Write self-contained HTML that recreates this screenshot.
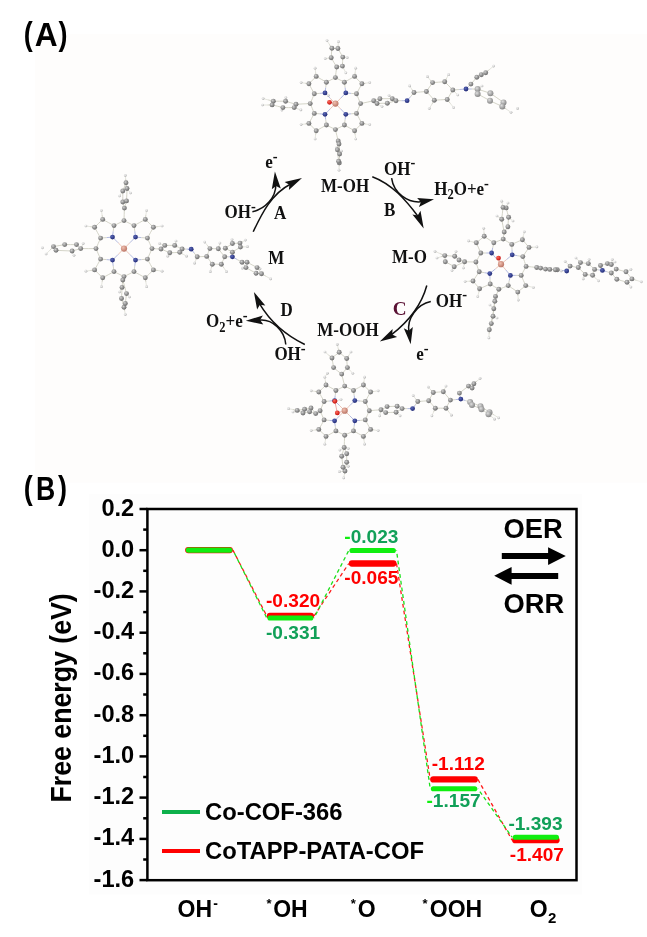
<!DOCTYPE html>
<html><head><meta charset="utf-8"><title>Figure</title>
<style>html,body{margin:0;padding:0;background:#fff;}svg{display:block;}</style>
</head><body>
<svg width="647" height="937" viewBox="0 0 647 937">
<defs>
<radialGradient id="gC" cx="0.38" cy="0.35" r="0.72"><stop offset="0" stop-color="#cfcfcf"/><stop offset="0.5" stop-color="#939393"/><stop offset="1" stop-color="#626262"/></radialGradient>
<radialGradient id="gC2" cx="0.38" cy="0.35" r="0.72"><stop offset="0" stop-color="#dedede"/><stop offset="0.5" stop-color="#acacac"/><stop offset="1" stop-color="#7e7e7e"/></radialGradient>
<radialGradient id="gH" cx="0.38" cy="0.35" r="0.72"><stop offset="0" stop-color="#f6f6f6"/><stop offset="0.6" stop-color="#d0d0d0"/><stop offset="1" stop-color="#9a9a9a"/></radialGradient>
<radialGradient id="gN" cx="0.38" cy="0.35" r="0.7"><stop offset="0" stop-color="#5a68b8"/><stop offset="1" stop-color="#1c2470"/></radialGradient>
<radialGradient id="gO" cx="0.38" cy="0.35" r="0.7"><stop offset="0" stop-color="#ff6a5a"/><stop offset="1" stop-color="#c00808"/></radialGradient>
<radialGradient id="gCo" cx="0.38" cy="0.35" r="0.7"><stop offset="0" stop-color="#f0c0b0"/><stop offset="1" stop-color="#b87060"/></radialGradient>
</defs>
<rect x="0" y="0" width="647" height="937" fill="#ffffff"/>
<rect x="35" y="34" width="612" height="448.7" fill="#fefdfc"/>
<rect x="89.3" y="494" width="492.7" height="400.5" fill="#fdfdfd"/>
<g stroke-width="0.9">
<line x1="335.4" y1="103.6" x2="330.2" y2="98.3" stroke="#e8c0b0"/>
<line x1="330.2" y1="98.3" x2="325.0" y2="92.9" stroke="#aab2dd"/>
<line x1="325.0" y1="92.9" x2="325.7" y2="87.6" stroke="#aab2dd"/>
<line x1="325.7" y1="87.6" x2="326.4" y2="82.2" stroke="#cfcfc2"/>
<line x1="325.0" y1="92.9" x2="319.7" y2="93.4" stroke="#aab2dd"/>
<line x1="319.7" y1="93.4" x2="314.3" y2="93.8" stroke="#cfcfc2"/>
<line x1="326.4" y1="82.2" x2="321.3" y2="79.3" stroke="#cfcfc2"/>
<line x1="321.3" y1="79.3" x2="316.2" y2="76.4" stroke="#cfcfc2"/>
<line x1="314.3" y1="93.8" x2="311.6" y2="88.8" stroke="#cfcfc2"/>
<line x1="311.6" y1="88.8" x2="308.9" y2="83.8" stroke="#cfcfc2"/>
<line x1="316.2" y1="76.4" x2="312.6" y2="80.1" stroke="#cfcfc2"/>
<line x1="312.6" y1="80.1" x2="308.9" y2="83.8" stroke="#cfcfc2"/>
<line x1="316.2" y1="76.4" x2="315.6" y2="72.3" stroke="#cfcfc2"/>
<line x1="315.6" y1="72.3" x2="315.1" y2="68.2" stroke="#e2e2da"/>
<line x1="308.9" y1="83.8" x2="305.0" y2="83.2" stroke="#cfcfc2"/>
<line x1="305.0" y1="83.2" x2="301.1" y2="82.6" stroke="#e2e2da"/>
<line x1="326.4" y1="82.2" x2="330.9" y2="79.9" stroke="#cfcfc2"/>
<line x1="330.9" y1="79.9" x2="335.4" y2="77.6" stroke="#cfcfc2"/>
<line x1="314.3" y1="93.8" x2="312.3" y2="98.7" stroke="#cfcfc2"/>
<line x1="312.3" y1="98.7" x2="310.2" y2="103.6" stroke="#cfcfc2"/>
<line x1="335.4" y1="103.6" x2="330.2" y2="108.9" stroke="#e8c0b0"/>
<line x1="330.2" y1="108.9" x2="325.0" y2="114.3" stroke="#aab2dd"/>
<line x1="325.0" y1="114.3" x2="325.7" y2="119.6" stroke="#aab2dd"/>
<line x1="325.7" y1="119.6" x2="326.4" y2="125.0" stroke="#cfcfc2"/>
<line x1="325.0" y1="114.3" x2="319.7" y2="113.8" stroke="#aab2dd"/>
<line x1="319.7" y1="113.8" x2="314.3" y2="113.4" stroke="#cfcfc2"/>
<line x1="326.4" y1="125.0" x2="321.3" y2="127.9" stroke="#cfcfc2"/>
<line x1="321.3" y1="127.9" x2="316.2" y2="130.8" stroke="#cfcfc2"/>
<line x1="314.3" y1="113.4" x2="311.6" y2="118.4" stroke="#cfcfc2"/>
<line x1="311.6" y1="118.4" x2="308.9" y2="123.4" stroke="#cfcfc2"/>
<line x1="316.2" y1="130.8" x2="312.6" y2="127.1" stroke="#cfcfc2"/>
<line x1="312.6" y1="127.1" x2="308.9" y2="123.4" stroke="#cfcfc2"/>
<line x1="316.2" y1="130.8" x2="315.6" y2="134.9" stroke="#cfcfc2"/>
<line x1="315.6" y1="134.9" x2="315.1" y2="139.0" stroke="#e2e2da"/>
<line x1="308.9" y1="123.4" x2="305.0" y2="124.0" stroke="#cfcfc2"/>
<line x1="305.0" y1="124.0" x2="301.1" y2="124.6" stroke="#e2e2da"/>
<line x1="326.4" y1="125.0" x2="330.9" y2="127.3" stroke="#cfcfc2"/>
<line x1="330.9" y1="127.3" x2="335.4" y2="129.6" stroke="#cfcfc2"/>
<line x1="314.3" y1="113.4" x2="312.3" y2="108.5" stroke="#cfcfc2"/>
<line x1="312.3" y1="108.5" x2="310.2" y2="103.6" stroke="#cfcfc2"/>
<line x1="335.4" y1="103.6" x2="340.6" y2="98.3" stroke="#e8c0b0"/>
<line x1="340.6" y1="98.3" x2="345.8" y2="92.9" stroke="#aab2dd"/>
<line x1="345.8" y1="92.9" x2="345.1" y2="87.6" stroke="#aab2dd"/>
<line x1="345.1" y1="87.6" x2="344.4" y2="82.2" stroke="#cfcfc2"/>
<line x1="345.8" y1="92.9" x2="351.1" y2="93.4" stroke="#aab2dd"/>
<line x1="351.1" y1="93.4" x2="356.5" y2="93.8" stroke="#cfcfc2"/>
<line x1="344.4" y1="82.2" x2="349.5" y2="79.3" stroke="#cfcfc2"/>
<line x1="349.5" y1="79.3" x2="354.6" y2="76.4" stroke="#cfcfc2"/>
<line x1="356.5" y1="93.8" x2="359.2" y2="88.8" stroke="#cfcfc2"/>
<line x1="359.2" y1="88.8" x2="361.9" y2="83.8" stroke="#cfcfc2"/>
<line x1="354.6" y1="76.4" x2="358.2" y2="80.1" stroke="#cfcfc2"/>
<line x1="358.2" y1="80.1" x2="361.9" y2="83.8" stroke="#cfcfc2"/>
<line x1="354.6" y1="76.4" x2="355.2" y2="72.3" stroke="#cfcfc2"/>
<line x1="355.2" y1="72.3" x2="355.7" y2="68.2" stroke="#e2e2da"/>
<line x1="361.9" y1="83.8" x2="365.8" y2="83.2" stroke="#cfcfc2"/>
<line x1="365.8" y1="83.2" x2="369.7" y2="82.6" stroke="#e2e2da"/>
<line x1="344.4" y1="82.2" x2="339.9" y2="79.9" stroke="#cfcfc2"/>
<line x1="339.9" y1="79.9" x2="335.4" y2="77.6" stroke="#cfcfc2"/>
<line x1="356.5" y1="93.8" x2="358.5" y2="98.7" stroke="#cfcfc2"/>
<line x1="358.5" y1="98.7" x2="360.6" y2="103.6" stroke="#cfcfc2"/>
<line x1="335.4" y1="103.6" x2="340.6" y2="108.9" stroke="#e8c0b0"/>
<line x1="340.6" y1="108.9" x2="345.8" y2="114.3" stroke="#aab2dd"/>
<line x1="345.8" y1="114.3" x2="345.1" y2="119.6" stroke="#aab2dd"/>
<line x1="345.1" y1="119.6" x2="344.4" y2="125.0" stroke="#cfcfc2"/>
<line x1="345.8" y1="114.3" x2="351.1" y2="113.8" stroke="#aab2dd"/>
<line x1="351.1" y1="113.8" x2="356.5" y2="113.4" stroke="#cfcfc2"/>
<line x1="344.4" y1="125.0" x2="349.5" y2="127.9" stroke="#cfcfc2"/>
<line x1="349.5" y1="127.9" x2="354.6" y2="130.8" stroke="#cfcfc2"/>
<line x1="356.5" y1="113.4" x2="359.2" y2="118.4" stroke="#cfcfc2"/>
<line x1="359.2" y1="118.4" x2="361.9" y2="123.4" stroke="#cfcfc2"/>
<line x1="354.6" y1="130.8" x2="358.2" y2="127.1" stroke="#cfcfc2"/>
<line x1="358.2" y1="127.1" x2="361.9" y2="123.4" stroke="#cfcfc2"/>
<line x1="354.6" y1="130.8" x2="355.2" y2="134.9" stroke="#cfcfc2"/>
<line x1="355.2" y1="134.9" x2="355.7" y2="139.0" stroke="#e2e2da"/>
<line x1="361.9" y1="123.4" x2="365.8" y2="124.0" stroke="#cfcfc2"/>
<line x1="365.8" y1="124.0" x2="369.7" y2="124.6" stroke="#e2e2da"/>
<line x1="344.4" y1="125.0" x2="339.9" y2="127.3" stroke="#cfcfc2"/>
<line x1="339.9" y1="127.3" x2="335.4" y2="129.6" stroke="#cfcfc2"/>
<line x1="356.5" y1="113.4" x2="358.5" y2="108.5" stroke="#cfcfc2"/>
<line x1="358.5" y1="108.5" x2="360.6" y2="103.6" stroke="#cfcfc2"/>
<line x1="336.7" y1="67.0" x2="333.9" y2="62.4" stroke="#cfcfc2"/>
<line x1="333.9" y1="62.4" x2="331.2" y2="57.7" stroke="#cfcfc2"/>
<line x1="331.2" y1="57.7" x2="331.5" y2="53.0" stroke="#cfcfc2"/>
<line x1="331.5" y1="53.0" x2="331.9" y2="48.2" stroke="#cfcfc2"/>
<line x1="331.9" y1="48.2" x2="334.9" y2="48.4" stroke="#cfcfc2"/>
<line x1="334.9" y1="48.4" x2="337.9" y2="48.5" stroke="#cfcfc2"/>
<line x1="337.9" y1="48.5" x2="340.4" y2="52.8" stroke="#cfcfc2"/>
<line x1="340.4" y1="52.8" x2="342.8" y2="57.1" stroke="#cfcfc2"/>
<line x1="342.8" y1="57.1" x2="342.6" y2="61.6" stroke="#cfcfc2"/>
<line x1="342.6" y1="61.6" x2="342.4" y2="66.1" stroke="#cfcfc2"/>
<line x1="342.4" y1="66.1" x2="339.5" y2="66.5" stroke="#cfcfc2"/>
<line x1="339.5" y1="66.5" x2="336.7" y2="67.0" stroke="#cfcfc2"/>
<line x1="296.0" y1="104.3" x2="290.8" y2="102.8" stroke="#cfcfc2"/>
<line x1="290.8" y1="102.8" x2="285.6" y2="101.2" stroke="#cfcfc2"/>
<line x1="285.6" y1="101.2" x2="279.5" y2="101.2" stroke="#cfcfc2"/>
<line x1="279.5" y1="101.2" x2="273.3" y2="101.2" stroke="#cfcfc2"/>
<line x1="273.3" y1="101.2" x2="272.7" y2="103.1" stroke="#cfcfc2"/>
<line x1="272.7" y1="103.1" x2="272.1" y2="104.9" stroke="#cfcfc2"/>
<line x1="272.1" y1="104.9" x2="277.5" y2="106.2" stroke="#cfcfc2"/>
<line x1="277.5" y1="106.2" x2="282.9" y2="107.6" stroke="#cfcfc2"/>
<line x1="282.9" y1="107.6" x2="288.5" y2="107.6" stroke="#cfcfc2"/>
<line x1="288.5" y1="107.6" x2="294.2" y2="107.6" stroke="#cfcfc2"/>
<line x1="294.2" y1="107.6" x2="295.1" y2="105.9" stroke="#cfcfc2"/>
<line x1="295.1" y1="105.9" x2="296.0" y2="104.3" stroke="#cfcfc2"/>
<line x1="338.2" y1="140.9" x2="338.6" y2="142.4" stroke="#cfcfc2"/>
<line x1="338.6" y1="142.4" x2="339.0" y2="144.0" stroke="#cfcfc2"/>
<line x1="339.0" y1="144.0" x2="339.3" y2="149.0" stroke="#cfcfc2"/>
<line x1="339.3" y1="149.0" x2="339.6" y2="154.0" stroke="#cfcfc2"/>
<line x1="339.6" y1="154.0" x2="339.5" y2="158.4" stroke="#cfcfc2"/>
<line x1="339.5" y1="158.4" x2="339.3" y2="162.9" stroke="#cfcfc2"/>
<line x1="339.3" y1="162.9" x2="339.0" y2="162.1" stroke="#cfcfc2"/>
<line x1="339.0" y1="162.1" x2="338.6" y2="161.3" stroke="#cfcfc2"/>
<line x1="338.6" y1="161.3" x2="338.0" y2="155.6" stroke="#cfcfc2"/>
<line x1="338.0" y1="155.6" x2="337.4" y2="149.8" stroke="#cfcfc2"/>
<line x1="337.4" y1="149.8" x2="337.8" y2="145.4" stroke="#cfcfc2"/>
<line x1="337.8" y1="145.4" x2="338.2" y2="140.9" stroke="#cfcfc2"/>
<line x1="373.7" y1="100.7" x2="376.8" y2="99.7" stroke="#cfcfc2"/>
<line x1="376.8" y1="99.7" x2="379.9" y2="98.7" stroke="#cfcfc2"/>
<line x1="379.9" y1="98.7" x2="386.1" y2="98.7" stroke="#cfcfc2"/>
<line x1="386.1" y1="98.7" x2="392.3" y2="98.7" stroke="#cfcfc2"/>
<line x1="392.3" y1="98.7" x2="394.1" y2="99.7" stroke="#cfcfc2"/>
<line x1="394.1" y1="99.7" x2="396.0" y2="100.7" stroke="#cfcfc2"/>
<line x1="396.0" y1="100.7" x2="391.6" y2="102.0" stroke="#cfcfc2"/>
<line x1="391.6" y1="102.0" x2="387.3" y2="103.2" stroke="#cfcfc2"/>
<line x1="387.3" y1="103.2" x2="382.1" y2="103.3" stroke="#cfcfc2"/>
<line x1="382.1" y1="103.3" x2="377.0" y2="103.5" stroke="#cfcfc2"/>
<line x1="377.0" y1="103.5" x2="375.4" y2="102.1" stroke="#cfcfc2"/>
<line x1="375.4" y1="102.1" x2="373.7" y2="100.7" stroke="#cfcfc2"/>
<line x1="396.0" y1="100.7" x2="401.6" y2="100.7" stroke="#cfcfc2"/>
<line x1="401.6" y1="100.7" x2="407.1" y2="100.7" stroke="#aab2dd"/>
<line x1="407.1" y1="100.7" x2="410.6" y2="96.6" stroke="#aab2dd"/>
<line x1="410.6" y1="96.6" x2="414.0" y2="92.5" stroke="#cfcfc2"/>
<line x1="414.0" y1="92.5" x2="420.2" y2="92.0" stroke="#cfcfc2"/>
<line x1="420.2" y1="92.0" x2="426.4" y2="91.5" stroke="#cfcfc2"/>
<line x1="426.4" y1="91.5" x2="429.5" y2="87.0" stroke="#cfcfc2"/>
<line x1="429.5" y1="87.0" x2="432.6" y2="82.6" stroke="#cfcfc2"/>
<line x1="432.6" y1="82.6" x2="438.6" y2="82.2" stroke="#cfcfc2"/>
<line x1="438.6" y1="82.2" x2="444.7" y2="81.7" stroke="#cfcfc2"/>
<line x1="444.7" y1="81.7" x2="448.8" y2="85.8" stroke="#cfcfc2"/>
<line x1="448.8" y1="85.8" x2="452.8" y2="90.0" stroke="#cfcfc2"/>
<line x1="452.8" y1="90.0" x2="450.0" y2="94.8" stroke="#cfcfc2"/>
<line x1="450.0" y1="94.8" x2="447.2" y2="99.5" stroke="#cfcfc2"/>
<line x1="447.2" y1="99.5" x2="440.8" y2="99.8" stroke="#cfcfc2"/>
<line x1="440.8" y1="99.8" x2="434.3" y2="100.2" stroke="#cfcfc2"/>
<line x1="434.3" y1="100.2" x2="430.4" y2="95.8" stroke="#cfcfc2"/>
<line x1="430.4" y1="95.8" x2="426.4" y2="91.5" stroke="#cfcfc2"/>
<line x1="452.8" y1="90.0" x2="459.4" y2="89.5" stroke="#cfcfc2"/>
<line x1="459.4" y1="89.5" x2="466.0" y2="89.0" stroke="#aab2dd"/>
<line x1="466.0" y1="89.0" x2="468.4" y2="86.5" stroke="#aab2dd"/>
<line x1="468.4" y1="86.5" x2="470.9" y2="84.1" stroke="#cfcfc2"/>
<line x1="470.9" y1="84.1" x2="473.9" y2="80.7" stroke="#cfcfc2"/>
<line x1="473.9" y1="80.7" x2="476.8" y2="77.2" stroke="#cfcfc2"/>
<line x1="476.8" y1="77.2" x2="479.1" y2="76.0" stroke="#cfcfc2"/>
<line x1="479.1" y1="76.0" x2="481.3" y2="74.7" stroke="#cfcfc2"/>
<line x1="481.3" y1="74.7" x2="483.5" y2="73.7" stroke="#cfcfc2"/>
<line x1="483.5" y1="73.7" x2="485.7" y2="72.7" stroke="#cfcfc2"/>
<line x1="466.0" y1="89.0" x2="471.8" y2="89.0" stroke="#aab2dd"/>
<line x1="471.8" y1="89.0" x2="477.6" y2="89.1" stroke="#cfcfc2"/>
<line x1="477.6" y1="89.1" x2="484.0" y2="91.2" stroke="#cfcfc2"/>
<line x1="484.0" y1="91.2" x2="490.4" y2="93.3" stroke="#cfcfc2"/>
<line x1="490.4" y1="93.3" x2="496.9" y2="97.8" stroke="#cfcfc2"/>
<line x1="496.9" y1="97.8" x2="503.5" y2="102.4" stroke="#cfcfc2"/>
<line x1="503.5" y1="102.4" x2="502.9" y2="104.4" stroke="#cfcfc2"/>
<line x1="502.9" y1="104.4" x2="502.3" y2="106.4" stroke="#cfcfc2"/>
<line x1="502.3" y1="106.4" x2="496.1" y2="103.6" stroke="#cfcfc2"/>
<line x1="496.1" y1="103.6" x2="490.0" y2="100.7" stroke="#cfcfc2"/>
<line x1="490.0" y1="100.7" x2="483.8" y2="97.3" stroke="#cfcfc2"/>
<line x1="483.8" y1="97.3" x2="477.6" y2="94.0" stroke="#cfcfc2"/>
<line x1="477.6" y1="94.0" x2="477.6" y2="91.5" stroke="#cfcfc2"/>
<line x1="477.6" y1="91.5" x2="477.6" y2="89.1" stroke="#cfcfc2"/>
<line x1="335.4" y1="77.6" x2="336.0" y2="72.3" stroke="#cfcfc2"/>
<line x1="336.0" y1="72.3" x2="336.7" y2="67.0" stroke="#cfcfc2"/>
<line x1="335.4" y1="129.6" x2="336.8" y2="135.3" stroke="#cfcfc2"/>
<line x1="336.8" y1="135.3" x2="338.2" y2="140.9" stroke="#cfcfc2"/>
<line x1="310.2" y1="103.6" x2="303.1" y2="103.9" stroke="#cfcfc2"/>
<line x1="303.1" y1="103.9" x2="296.0" y2="104.3" stroke="#cfcfc2"/>
<line x1="360.6" y1="103.6" x2="367.1" y2="102.2" stroke="#cfcfc2"/>
<line x1="367.1" y1="102.2" x2="373.7" y2="100.7" stroke="#cfcfc2"/>
<line x1="335.4" y1="103.6" x2="332.4" y2="102.9" stroke="#e8c0b0"/>
<line x1="332.4" y1="102.9" x2="329.5" y2="102.3" stroke="#eaa0a0"/>
<line x1="327.0" y1="40.6" x2="329.4" y2="44.4" stroke="#e2e2da"/>
<line x1="329.4" y1="44.4" x2="331.9" y2="48.2" stroke="#cfcfc2"/>
<line x1="338.4" y1="41.7" x2="338.1" y2="45.1" stroke="#e2e2da"/>
<line x1="338.1" y1="45.1" x2="337.9" y2="48.5" stroke="#cfcfc2"/>
<line x1="325.2" y1="58.7" x2="328.2" y2="58.2" stroke="#e2e2da"/>
<line x1="328.2" y1="58.2" x2="331.2" y2="57.7" stroke="#cfcfc2"/>
<line x1="347.2" y1="57.7" x2="345.0" y2="57.4" stroke="#e2e2da"/>
<line x1="345.0" y1="57.4" x2="342.8" y2="57.1" stroke="#cfcfc2"/>
<line x1="345.8" y1="72.8" x2="344.1" y2="69.4" stroke="#e2e2da"/>
<line x1="344.1" y1="69.4" x2="342.4" y2="66.1" stroke="#cfcfc2"/>
<line x1="263.1" y1="98.6" x2="268.2" y2="99.9" stroke="#e2e2da"/>
<line x1="268.2" y1="99.9" x2="273.3" y2="101.2" stroke="#cfcfc2"/>
<line x1="262.5" y1="105.0" x2="267.3" y2="105.0" stroke="#e2e2da"/>
<line x1="267.3" y1="105.0" x2="272.1" y2="104.9" stroke="#cfcfc2"/>
<line x1="285.8" y1="97.6" x2="285.7" y2="99.4" stroke="#e2e2da"/>
<line x1="285.7" y1="99.4" x2="285.6" y2="101.2" stroke="#cfcfc2"/>
<line x1="281.9" y1="110.1" x2="282.4" y2="108.8" stroke="#e2e2da"/>
<line x1="282.4" y1="108.8" x2="282.9" y2="107.6" stroke="#cfcfc2"/>
<line x1="300.9" y1="109.9" x2="297.5" y2="108.8" stroke="#e2e2da"/>
<line x1="297.5" y1="108.8" x2="294.2" y2="107.6" stroke="#cfcfc2"/>
<line x1="336.3" y1="147.8" x2="336.9" y2="148.8" stroke="#e2e2da"/>
<line x1="336.9" y1="148.8" x2="337.4" y2="149.8" stroke="#cfcfc2"/>
<line x1="339.0" y1="170.2" x2="339.1" y2="166.6" stroke="#e2e2da"/>
<line x1="339.1" y1="166.6" x2="339.3" y2="162.9" stroke="#cfcfc2"/>
<line x1="341.5" y1="151.0" x2="340.6" y2="152.5" stroke="#e2e2da"/>
<line x1="340.6" y1="152.5" x2="339.6" y2="154.0" stroke="#cfcfc2"/>
<line x1="382.0" y1="106.5" x2="379.5" y2="105.0" stroke="#e2e2da"/>
<line x1="379.5" y1="105.0" x2="377.0" y2="103.5" stroke="#cfcfc2"/>
<line x1="389.0" y1="95.5" x2="390.6" y2="97.1" stroke="#e2e2da"/>
<line x1="390.6" y1="97.1" x2="392.3" y2="98.7" stroke="#cfcfc2"/>
<line x1="409.6" y1="85.9" x2="411.8" y2="89.2" stroke="#e2e2da"/>
<line x1="411.8" y1="89.2" x2="414.0" y2="92.5" stroke="#cfcfc2"/>
<line x1="427.4" y1="76.7" x2="430.0" y2="79.7" stroke="#e2e2da"/>
<line x1="430.0" y1="79.7" x2="432.6" y2="82.6" stroke="#cfcfc2"/>
<line x1="448.6" y1="74.7" x2="446.6" y2="78.2" stroke="#e2e2da"/>
<line x1="446.6" y1="78.2" x2="444.7" y2="81.7" stroke="#cfcfc2"/>
<line x1="429.3" y1="108.6" x2="431.8" y2="104.4" stroke="#e2e2da"/>
<line x1="431.8" y1="104.4" x2="434.3" y2="100.2" stroke="#cfcfc2"/>
<line x1="453.6" y1="107.6" x2="450.4" y2="103.5" stroke="#e2e2da"/>
<line x1="450.4" y1="103.5" x2="447.2" y2="99.5" stroke="#cfcfc2"/>
<line x1="457.8" y1="95.0" x2="455.3" y2="92.5" stroke="#e2e2da"/>
<line x1="455.3" y1="92.5" x2="452.8" y2="90.0" stroke="#cfcfc2"/>
<line x1="493.6" y1="66.1" x2="489.6" y2="69.4" stroke="#e2e2da"/>
<line x1="489.6" y1="69.4" x2="485.7" y2="72.7" stroke="#cfcfc2"/>
<line x1="511.0" y1="112.3" x2="506.6" y2="109.3" stroke="#e2e2da"/>
<line x1="506.6" y1="109.3" x2="502.3" y2="106.4" stroke="#cfcfc2"/>
<line x1="482.0" y1="86.0" x2="479.8" y2="87.5" stroke="#e2e2da"/>
<line x1="479.8" y1="87.5" x2="477.6" y2="89.1" stroke="#cfcfc2"/>
<line x1="328.3" y1="95.5" x2="326.7" y2="94.2" stroke="#e2e2da"/>
<line x1="326.7" y1="94.2" x2="325.0" y2="92.9" stroke="#aab2dd"/>
<circle cx="315.1" cy="68.2" r="1.35" fill="url(#gH)"/>
<circle cx="301.1" cy="82.6" r="1.35" fill="url(#gH)"/>
<circle cx="315.1" cy="139.0" r="1.35" fill="url(#gH)"/>
<circle cx="301.1" cy="124.6" r="1.35" fill="url(#gH)"/>
<circle cx="355.7" cy="68.2" r="1.35" fill="url(#gH)"/>
<circle cx="369.7" cy="82.6" r="1.35" fill="url(#gH)"/>
<circle cx="355.7" cy="139.0" r="1.35" fill="url(#gH)"/>
<circle cx="369.7" cy="124.6" r="1.35" fill="url(#gH)"/>
<circle cx="327.0" cy="40.6" r="1.35" fill="url(#gH)"/>
<circle cx="338.4" cy="41.7" r="1.35" fill="url(#gH)"/>
<circle cx="325.2" cy="58.7" r="1.35" fill="url(#gH)"/>
<circle cx="347.2" cy="57.7" r="1.35" fill="url(#gH)"/>
<circle cx="345.8" cy="72.8" r="1.35" fill="url(#gH)"/>
<circle cx="263.1" cy="98.6" r="1.35" fill="url(#gH)"/>
<circle cx="262.5" cy="105.0" r="1.35" fill="url(#gH)"/>
<circle cx="285.8" cy="97.6" r="1.35" fill="url(#gH)"/>
<circle cx="281.9" cy="110.1" r="1.35" fill="url(#gH)"/>
<circle cx="300.9" cy="109.9" r="1.35" fill="url(#gH)"/>
<circle cx="336.3" cy="147.8" r="1.35" fill="url(#gH)"/>
<circle cx="339.0" cy="170.2" r="1.35" fill="url(#gH)"/>
<circle cx="341.5" cy="151.0" r="1.35" fill="url(#gH)"/>
<circle cx="382.0" cy="106.5" r="1.35" fill="url(#gH)"/>
<circle cx="389.0" cy="95.5" r="1.35" fill="url(#gH)"/>
<circle cx="409.6" cy="85.9" r="1.35" fill="url(#gH)"/>
<circle cx="427.4" cy="76.7" r="1.35" fill="url(#gH)"/>
<circle cx="448.6" cy="74.7" r="1.35" fill="url(#gH)"/>
<circle cx="429.3" cy="108.6" r="1.35" fill="url(#gH)"/>
<circle cx="453.6" cy="107.6" r="1.35" fill="url(#gH)"/>
<circle cx="457.8" cy="95.0" r="1.35" fill="url(#gH)"/>
<circle cx="493.6" cy="66.1" r="1.35" fill="url(#gH)"/>
<circle cx="511.0" cy="112.3" r="1.35" fill="url(#gH)"/>
<circle cx="517.6" cy="108.4" r="1.35" fill="url(#gH)"/>
<circle cx="482.0" cy="86.0" r="1.35" fill="url(#gH)"/>
<circle cx="328.3" cy="95.5" r="1.35" fill="url(#gH)"/>
<circle cx="335.4" cy="103.6" r="3.1" fill="url(#gCo)"/>
<circle cx="335.4" cy="77.6" r="2.45" fill="url(#gC)"/>
<circle cx="335.4" cy="129.6" r="2.45" fill="url(#gC)"/>
<circle cx="310.2" cy="103.6" r="2.45" fill="url(#gC)"/>
<circle cx="360.6" cy="103.6" r="2.45" fill="url(#gC)"/>
<circle cx="325.0" cy="92.9" r="2.4" fill="url(#gN)"/>
<circle cx="326.4" cy="82.2" r="2.45" fill="url(#gC)"/>
<circle cx="314.3" cy="93.8" r="2.45" fill="url(#gC)"/>
<circle cx="316.2" cy="76.4" r="2.45" fill="url(#gC)"/>
<circle cx="308.9" cy="83.8" r="2.45" fill="url(#gC)"/>
<circle cx="325.0" cy="114.3" r="2.4" fill="url(#gN)"/>
<circle cx="326.4" cy="125.0" r="2.45" fill="url(#gC)"/>
<circle cx="314.3" cy="113.4" r="2.45" fill="url(#gC)"/>
<circle cx="316.2" cy="130.8" r="2.45" fill="url(#gC)"/>
<circle cx="308.9" cy="123.4" r="2.45" fill="url(#gC)"/>
<circle cx="345.8" cy="92.9" r="2.4" fill="url(#gN)"/>
<circle cx="344.4" cy="82.2" r="2.45" fill="url(#gC)"/>
<circle cx="356.5" cy="93.8" r="2.45" fill="url(#gC)"/>
<circle cx="354.6" cy="76.4" r="2.45" fill="url(#gC)"/>
<circle cx="361.9" cy="83.8" r="2.45" fill="url(#gC)"/>
<circle cx="345.8" cy="114.3" r="2.4" fill="url(#gN)"/>
<circle cx="344.4" cy="125.0" r="2.45" fill="url(#gC)"/>
<circle cx="356.5" cy="113.4" r="2.45" fill="url(#gC)"/>
<circle cx="354.6" cy="130.8" r="2.45" fill="url(#gC)"/>
<circle cx="361.9" cy="123.4" r="2.45" fill="url(#gC)"/>
<circle cx="336.7" cy="67.0" r="2.45" fill="url(#gC)"/>
<circle cx="331.2" cy="57.7" r="2.45" fill="url(#gC)"/>
<circle cx="331.9" cy="48.2" r="2.45" fill="url(#gC)"/>
<circle cx="337.9" cy="48.5" r="2.45" fill="url(#gC)"/>
<circle cx="342.8" cy="57.1" r="2.45" fill="url(#gC)"/>
<circle cx="342.4" cy="66.1" r="2.45" fill="url(#gC)"/>
<circle cx="296.0" cy="104.3" r="2.45" fill="url(#gC)"/>
<circle cx="285.6" cy="101.2" r="2.45" fill="url(#gC)"/>
<circle cx="273.3" cy="101.2" r="2.45" fill="url(#gC)"/>
<circle cx="272.1" cy="104.9" r="2.45" fill="url(#gC)"/>
<circle cx="282.9" cy="107.6" r="2.45" fill="url(#gC)"/>
<circle cx="294.2" cy="107.6" r="2.45" fill="url(#gC)"/>
<circle cx="338.2" cy="140.9" r="2.45" fill="url(#gC)"/>
<circle cx="339.0" cy="144.0" r="2.45" fill="url(#gC)"/>
<circle cx="339.6" cy="154.0" r="2.45" fill="url(#gC)"/>
<circle cx="339.3" cy="162.9" r="2.45" fill="url(#gC)"/>
<circle cx="338.6" cy="161.3" r="2.45" fill="url(#gC)"/>
<circle cx="337.4" cy="149.8" r="2.45" fill="url(#gC)"/>
<circle cx="373.7" cy="100.7" r="2.45" fill="url(#gC)"/>
<circle cx="379.9" cy="98.7" r="2.45" fill="url(#gC)"/>
<circle cx="392.3" cy="98.7" r="2.45" fill="url(#gC)"/>
<circle cx="396.0" cy="100.7" r="2.45" fill="url(#gC)"/>
<circle cx="387.3" cy="103.2" r="2.45" fill="url(#gC)"/>
<circle cx="377.0" cy="103.5" r="2.45" fill="url(#gC)"/>
<circle cx="407.1" cy="100.7" r="2.4" fill="url(#gN)"/>
<circle cx="414.0" cy="92.5" r="2.45" fill="url(#gC)"/>
<circle cx="426.4" cy="91.5" r="2.45" fill="url(#gC)"/>
<circle cx="432.6" cy="82.6" r="2.45" fill="url(#gC)"/>
<circle cx="444.7" cy="81.7" r="2.45" fill="url(#gC)"/>
<circle cx="452.8" cy="90.0" r="2.45" fill="url(#gC)"/>
<circle cx="447.2" cy="99.5" r="2.45" fill="url(#gC)"/>
<circle cx="434.3" cy="100.2" r="2.45" fill="url(#gC)"/>
<circle cx="466.0" cy="89.0" r="2.4" fill="url(#gN)"/>
<circle cx="470.9" cy="84.1" r="2.45" fill="url(#gC)"/>
<circle cx="476.8" cy="77.2" r="2.45" fill="url(#gC)"/>
<circle cx="481.3" cy="74.7" r="2.45" fill="url(#gC)"/>
<circle cx="485.7" cy="72.7" r="2.45" fill="url(#gC)"/>
<circle cx="329.5" cy="102.3" r="2.4" fill="url(#gO)"/>
<circle cx="477.6" cy="89.1" r="3.0" fill="url(#gC2)"/>
<circle cx="490.4" cy="93.3" r="3.0" fill="url(#gC2)"/>
<circle cx="503.5" cy="102.4" r="3.0" fill="url(#gC2)"/>
<circle cx="502.3" cy="106.4" r="3.0" fill="url(#gC2)"/>
<circle cx="490.0" cy="100.7" r="3.0" fill="url(#gC2)"/>
<circle cx="477.6" cy="94.0" r="3.0" fill="url(#gC2)"/>
<line x1="124.0" y1="248.6" x2="118.2" y2="242.8" stroke="#e8c0b0"/>
<line x1="118.2" y1="242.8" x2="112.5" y2="237.1" stroke="#aab2dd"/>
<line x1="112.5" y1="237.1" x2="113.2" y2="231.3" stroke="#aab2dd"/>
<line x1="113.2" y1="231.3" x2="114.0" y2="225.6" stroke="#cfcfc2"/>
<line x1="112.5" y1="237.1" x2="106.5" y2="237.6" stroke="#aab2dd"/>
<line x1="106.5" y1="237.6" x2="100.6" y2="238.1" stroke="#cfcfc2"/>
<line x1="114.0" y1="225.6" x2="108.3" y2="222.5" stroke="#cfcfc2"/>
<line x1="108.3" y1="222.5" x2="102.7" y2="219.4" stroke="#cfcfc2"/>
<line x1="100.6" y1="238.1" x2="97.6" y2="232.7" stroke="#cfcfc2"/>
<line x1="97.6" y1="232.7" x2="94.6" y2="227.3" stroke="#cfcfc2"/>
<line x1="102.7" y1="219.4" x2="98.7" y2="223.3" stroke="#cfcfc2"/>
<line x1="98.7" y1="223.3" x2="94.6" y2="227.3" stroke="#cfcfc2"/>
<line x1="102.7" y1="219.4" x2="102.1" y2="214.9" stroke="#cfcfc2"/>
<line x1="102.1" y1="214.9" x2="101.4" y2="210.5" stroke="#e2e2da"/>
<line x1="94.6" y1="227.3" x2="90.2" y2="226.6" stroke="#cfcfc2"/>
<line x1="90.2" y1="226.6" x2="85.9" y2="226.0" stroke="#e2e2da"/>
<line x1="114.0" y1="225.6" x2="119.0" y2="223.1" stroke="#cfcfc2"/>
<line x1="119.0" y1="223.1" x2="124.0" y2="220.6" stroke="#cfcfc2"/>
<line x1="100.6" y1="238.1" x2="98.3" y2="243.3" stroke="#cfcfc2"/>
<line x1="98.3" y1="243.3" x2="96.0" y2="248.6" stroke="#cfcfc2"/>
<line x1="124.0" y1="248.6" x2="118.2" y2="254.4" stroke="#e8c0b0"/>
<line x1="118.2" y1="254.4" x2="112.5" y2="260.1" stroke="#aab2dd"/>
<line x1="112.5" y1="260.1" x2="113.2" y2="265.9" stroke="#aab2dd"/>
<line x1="113.2" y1="265.9" x2="114.0" y2="271.6" stroke="#cfcfc2"/>
<line x1="112.5" y1="260.1" x2="106.5" y2="259.6" stroke="#aab2dd"/>
<line x1="106.5" y1="259.6" x2="100.6" y2="259.1" stroke="#cfcfc2"/>
<line x1="114.0" y1="271.6" x2="108.3" y2="274.7" stroke="#cfcfc2"/>
<line x1="108.3" y1="274.7" x2="102.7" y2="277.8" stroke="#cfcfc2"/>
<line x1="100.6" y1="259.1" x2="97.6" y2="264.5" stroke="#cfcfc2"/>
<line x1="97.6" y1="264.5" x2="94.6" y2="269.9" stroke="#cfcfc2"/>
<line x1="102.7" y1="277.8" x2="98.7" y2="273.9" stroke="#cfcfc2"/>
<line x1="98.7" y1="273.9" x2="94.6" y2="269.9" stroke="#cfcfc2"/>
<line x1="102.7" y1="277.8" x2="102.1" y2="282.2" stroke="#cfcfc2"/>
<line x1="102.1" y1="282.2" x2="101.4" y2="286.7" stroke="#e2e2da"/>
<line x1="94.6" y1="269.9" x2="90.2" y2="270.5" stroke="#cfcfc2"/>
<line x1="90.2" y1="270.5" x2="85.9" y2="271.2" stroke="#e2e2da"/>
<line x1="114.0" y1="271.6" x2="119.0" y2="274.1" stroke="#cfcfc2"/>
<line x1="119.0" y1="274.1" x2="124.0" y2="276.6" stroke="#cfcfc2"/>
<line x1="100.6" y1="259.1" x2="98.3" y2="253.9" stroke="#cfcfc2"/>
<line x1="98.3" y1="253.9" x2="96.0" y2="248.6" stroke="#cfcfc2"/>
<line x1="124.0" y1="248.6" x2="129.8" y2="242.8" stroke="#e8c0b0"/>
<line x1="129.8" y1="242.8" x2="135.5" y2="237.1" stroke="#aab2dd"/>
<line x1="135.5" y1="237.1" x2="134.8" y2="231.3" stroke="#aab2dd"/>
<line x1="134.8" y1="231.3" x2="134.0" y2="225.6" stroke="#cfcfc2"/>
<line x1="135.5" y1="237.1" x2="141.4" y2="237.6" stroke="#aab2dd"/>
<line x1="141.4" y1="237.6" x2="147.4" y2="238.1" stroke="#cfcfc2"/>
<line x1="134.0" y1="225.6" x2="139.7" y2="222.5" stroke="#cfcfc2"/>
<line x1="139.7" y1="222.5" x2="145.3" y2="219.4" stroke="#cfcfc2"/>
<line x1="147.4" y1="238.1" x2="150.4" y2="232.7" stroke="#cfcfc2"/>
<line x1="150.4" y1="232.7" x2="153.4" y2="227.3" stroke="#cfcfc2"/>
<line x1="145.3" y1="219.4" x2="149.4" y2="223.3" stroke="#cfcfc2"/>
<line x1="149.4" y1="223.3" x2="153.4" y2="227.3" stroke="#cfcfc2"/>
<line x1="145.3" y1="219.4" x2="145.9" y2="214.9" stroke="#cfcfc2"/>
<line x1="145.9" y1="214.9" x2="146.6" y2="210.5" stroke="#e2e2da"/>
<line x1="153.4" y1="227.3" x2="157.8" y2="226.6" stroke="#cfcfc2"/>
<line x1="157.8" y1="226.6" x2="162.1" y2="226.0" stroke="#e2e2da"/>
<line x1="134.0" y1="225.6" x2="129.0" y2="223.1" stroke="#cfcfc2"/>
<line x1="129.0" y1="223.1" x2="124.0" y2="220.6" stroke="#cfcfc2"/>
<line x1="147.4" y1="238.1" x2="149.7" y2="243.3" stroke="#cfcfc2"/>
<line x1="149.7" y1="243.3" x2="152.0" y2="248.6" stroke="#cfcfc2"/>
<line x1="124.0" y1="248.6" x2="129.8" y2="254.4" stroke="#e8c0b0"/>
<line x1="129.8" y1="254.4" x2="135.5" y2="260.1" stroke="#aab2dd"/>
<line x1="135.5" y1="260.1" x2="134.8" y2="265.9" stroke="#aab2dd"/>
<line x1="134.8" y1="265.9" x2="134.0" y2="271.6" stroke="#cfcfc2"/>
<line x1="135.5" y1="260.1" x2="141.4" y2="259.6" stroke="#aab2dd"/>
<line x1="141.4" y1="259.6" x2="147.4" y2="259.1" stroke="#cfcfc2"/>
<line x1="134.0" y1="271.6" x2="139.7" y2="274.7" stroke="#cfcfc2"/>
<line x1="139.7" y1="274.7" x2="145.3" y2="277.8" stroke="#cfcfc2"/>
<line x1="147.4" y1="259.1" x2="150.4" y2="264.5" stroke="#cfcfc2"/>
<line x1="150.4" y1="264.5" x2="153.4" y2="269.9" stroke="#cfcfc2"/>
<line x1="145.3" y1="277.8" x2="149.4" y2="273.9" stroke="#cfcfc2"/>
<line x1="149.4" y1="273.9" x2="153.4" y2="269.9" stroke="#cfcfc2"/>
<line x1="145.3" y1="277.8" x2="145.9" y2="282.2" stroke="#cfcfc2"/>
<line x1="145.9" y1="282.2" x2="146.6" y2="286.7" stroke="#e2e2da"/>
<line x1="153.4" y1="269.9" x2="157.8" y2="270.5" stroke="#cfcfc2"/>
<line x1="157.8" y1="270.5" x2="162.1" y2="271.2" stroke="#e2e2da"/>
<line x1="134.0" y1="271.6" x2="129.0" y2="274.1" stroke="#cfcfc2"/>
<line x1="129.0" y1="274.1" x2="124.0" y2="276.6" stroke="#cfcfc2"/>
<line x1="147.4" y1="259.1" x2="149.7" y2="253.9" stroke="#cfcfc2"/>
<line x1="149.7" y1="253.9" x2="152.0" y2="248.6" stroke="#cfcfc2"/>
<line x1="124.4" y1="208.1" x2="123.6" y2="205.1" stroke="#cfcfc2"/>
<line x1="123.6" y1="205.1" x2="122.8" y2="202.0" stroke="#cfcfc2"/>
<line x1="122.8" y1="202.0" x2="122.8" y2="196.5" stroke="#cfcfc2"/>
<line x1="122.8" y1="196.5" x2="122.8" y2="191.0" stroke="#cfcfc2"/>
<line x1="122.8" y1="191.0" x2="124.4" y2="186.9" stroke="#cfcfc2"/>
<line x1="124.4" y1="186.9" x2="126.0" y2="182.8" stroke="#cfcfc2"/>
<line x1="126.0" y1="182.8" x2="126.5" y2="185.7" stroke="#cfcfc2"/>
<line x1="126.5" y1="185.7" x2="127.0" y2="188.5" stroke="#cfcfc2"/>
<line x1="127.0" y1="188.5" x2="126.8" y2="194.7" stroke="#cfcfc2"/>
<line x1="126.8" y1="194.7" x2="126.5" y2="200.9" stroke="#cfcfc2"/>
<line x1="126.5" y1="200.9" x2="125.5" y2="204.5" stroke="#cfcfc2"/>
<line x1="125.5" y1="204.5" x2="124.4" y2="208.1" stroke="#cfcfc2"/>
<line x1="80.7" y1="248.6" x2="78.6" y2="246.6" stroke="#cfcfc2"/>
<line x1="78.6" y1="246.6" x2="76.5" y2="244.6" stroke="#cfcfc2"/>
<line x1="76.5" y1="244.6" x2="70.6" y2="244.6" stroke="#cfcfc2"/>
<line x1="70.6" y1="244.6" x2="64.7" y2="244.6" stroke="#cfcfc2"/>
<line x1="64.7" y1="244.6" x2="59.1" y2="245.6" stroke="#cfcfc2"/>
<line x1="59.1" y1="245.6" x2="53.5" y2="246.6" stroke="#cfcfc2"/>
<line x1="53.5" y1="246.6" x2="54.8" y2="248.4" stroke="#cfcfc2"/>
<line x1="54.8" y1="248.4" x2="56.0" y2="250.3" stroke="#cfcfc2"/>
<line x1="56.0" y1="250.3" x2="64.0" y2="250.7" stroke="#cfcfc2"/>
<line x1="64.0" y1="250.7" x2="72.1" y2="251.0" stroke="#cfcfc2"/>
<line x1="72.1" y1="251.0" x2="76.4" y2="249.8" stroke="#cfcfc2"/>
<line x1="76.4" y1="249.8" x2="80.7" y2="248.6" stroke="#cfcfc2"/>
<line x1="122.8" y1="280.0" x2="122.4" y2="283.7" stroke="#cfcfc2"/>
<line x1="122.4" y1="283.7" x2="122.0" y2="287.4" stroke="#cfcfc2"/>
<line x1="122.0" y1="287.4" x2="121.8" y2="292.9" stroke="#cfcfc2"/>
<line x1="121.8" y1="292.9" x2="121.5" y2="298.5" stroke="#cfcfc2"/>
<line x1="121.5" y1="298.5" x2="122.8" y2="302.9" stroke="#cfcfc2"/>
<line x1="122.8" y1="302.9" x2="124.0" y2="307.2" stroke="#cfcfc2"/>
<line x1="124.0" y1="307.2" x2="124.7" y2="305.4" stroke="#cfcfc2"/>
<line x1="124.7" y1="305.4" x2="125.3" y2="303.5" stroke="#cfcfc2"/>
<line x1="125.3" y1="303.5" x2="125.9" y2="298.6" stroke="#cfcfc2"/>
<line x1="125.9" y1="298.6" x2="126.5" y2="293.6" stroke="#cfcfc2"/>
<line x1="126.5" y1="293.6" x2="124.7" y2="286.8" stroke="#cfcfc2"/>
<line x1="124.7" y1="286.8" x2="122.8" y2="280.0" stroke="#cfcfc2"/>
<line x1="161.0" y1="249.0" x2="162.9" y2="247.2" stroke="#cfcfc2"/>
<line x1="162.9" y1="247.2" x2="164.8" y2="245.4" stroke="#cfcfc2"/>
<line x1="164.8" y1="245.4" x2="169.8" y2="245.4" stroke="#cfcfc2"/>
<line x1="169.8" y1="245.4" x2="174.7" y2="245.4" stroke="#cfcfc2"/>
<line x1="174.7" y1="245.4" x2="178.4" y2="247.2" stroke="#cfcfc2"/>
<line x1="178.4" y1="247.2" x2="182.1" y2="249.0" stroke="#cfcfc2"/>
<line x1="182.1" y1="249.0" x2="180.9" y2="250.7" stroke="#cfcfc2"/>
<line x1="180.9" y1="250.7" x2="179.7" y2="252.3" stroke="#cfcfc2"/>
<line x1="179.7" y1="252.3" x2="174.8" y2="252.6" stroke="#cfcfc2"/>
<line x1="174.8" y1="252.6" x2="169.8" y2="252.8" stroke="#cfcfc2"/>
<line x1="169.8" y1="252.8" x2="165.4" y2="250.9" stroke="#cfcfc2"/>
<line x1="165.4" y1="250.9" x2="161.0" y2="249.0" stroke="#cfcfc2"/>
<line x1="182.1" y1="249.0" x2="186.6" y2="249.1" stroke="#cfcfc2"/>
<line x1="186.6" y1="249.1" x2="191.2" y2="249.2" stroke="#aab2dd"/>
<line x1="191.2" y1="249.2" x2="194.2" y2="253.0" stroke="#aab2dd"/>
<line x1="194.2" y1="253.0" x2="197.2" y2="256.8" stroke="#cfcfc2"/>
<line x1="197.2" y1="256.8" x2="201.9" y2="256.6" stroke="#cfcfc2"/>
<line x1="201.9" y1="256.6" x2="206.7" y2="256.4" stroke="#cfcfc2"/>
<line x1="206.7" y1="256.4" x2="208.3" y2="252.5" stroke="#cfcfc2"/>
<line x1="208.3" y1="252.5" x2="209.9" y2="248.6" stroke="#cfcfc2"/>
<line x1="209.9" y1="248.6" x2="214.1" y2="248.7" stroke="#cfcfc2"/>
<line x1="214.1" y1="248.7" x2="218.3" y2="248.8" stroke="#cfcfc2"/>
<line x1="218.3" y1="248.8" x2="221.5" y2="252.8" stroke="#cfcfc2"/>
<line x1="221.5" y1="252.8" x2="224.7" y2="256.8" stroke="#cfcfc2"/>
<line x1="224.7" y1="256.8" x2="223.0" y2="260.5" stroke="#cfcfc2"/>
<line x1="223.0" y1="260.5" x2="221.3" y2="264.2" stroke="#cfcfc2"/>
<line x1="221.3" y1="264.2" x2="216.8" y2="264.2" stroke="#cfcfc2"/>
<line x1="216.8" y1="264.2" x2="212.3" y2="264.2" stroke="#cfcfc2"/>
<line x1="212.3" y1="264.2" x2="209.5" y2="260.3" stroke="#cfcfc2"/>
<line x1="209.5" y1="260.3" x2="206.7" y2="256.4" stroke="#cfcfc2"/>
<line x1="224.7" y1="256.8" x2="228.6" y2="256.8" stroke="#cfcfc2"/>
<line x1="228.6" y1="256.8" x2="232.4" y2="256.8" stroke="#aab2dd"/>
<line x1="232.4" y1="256.8" x2="232.4" y2="254.5" stroke="#aab2dd"/>
<line x1="232.4" y1="254.5" x2="232.4" y2="252.2" stroke="#cfcfc2"/>
<line x1="232.4" y1="252.2" x2="228.9" y2="250.2" stroke="#cfcfc2"/>
<line x1="228.9" y1="250.2" x2="225.3" y2="248.2" stroke="#cfcfc2"/>
<line x1="225.3" y1="248.2" x2="228.9" y2="245.8" stroke="#cfcfc2"/>
<line x1="228.9" y1="245.8" x2="232.4" y2="243.5" stroke="#cfcfc2"/>
<line x1="232.4" y1="243.5" x2="236.2" y2="243.3" stroke="#cfcfc2"/>
<line x1="236.2" y1="243.3" x2="240.0" y2="243.1" stroke="#cfcfc2"/>
<line x1="240.0" y1="243.1" x2="240.2" y2="245.1" stroke="#cfcfc2"/>
<line x1="240.2" y1="245.1" x2="240.4" y2="247.1" stroke="#cfcfc2"/>
<line x1="240.4" y1="247.1" x2="236.4" y2="249.6" stroke="#cfcfc2"/>
<line x1="236.4" y1="249.6" x2="232.4" y2="252.2" stroke="#cfcfc2"/>
<line x1="232.4" y1="256.8" x2="237.2" y2="259.5" stroke="#aab2dd"/>
<line x1="237.2" y1="259.5" x2="242.0" y2="262.2" stroke="#cfcfc2"/>
<line x1="242.0" y1="262.2" x2="244.5" y2="262.2" stroke="#cfcfc2"/>
<line x1="244.5" y1="262.2" x2="247.0" y2="262.2" stroke="#cfcfc2"/>
<line x1="247.0" y1="262.2" x2="252.1" y2="264.9" stroke="#cfcfc2"/>
<line x1="252.1" y1="264.9" x2="257.1" y2="267.6" stroke="#cfcfc2"/>
<line x1="257.1" y1="267.6" x2="259.3" y2="270.6" stroke="#cfcfc2"/>
<line x1="259.3" y1="270.6" x2="261.5" y2="273.7" stroke="#cfcfc2"/>
<line x1="261.5" y1="273.7" x2="258.8" y2="273.5" stroke="#cfcfc2"/>
<line x1="258.8" y1="273.5" x2="256.1" y2="273.3" stroke="#cfcfc2"/>
<line x1="256.1" y1="273.3" x2="251.1" y2="270.5" stroke="#cfcfc2"/>
<line x1="251.1" y1="270.5" x2="246.0" y2="267.6" stroke="#cfcfc2"/>
<line x1="246.0" y1="267.6" x2="244.0" y2="264.9" stroke="#cfcfc2"/>
<line x1="244.0" y1="264.9" x2="242.0" y2="262.2" stroke="#cfcfc2"/>
<line x1="124.0" y1="220.6" x2="124.2" y2="214.3" stroke="#cfcfc2"/>
<line x1="124.2" y1="214.3" x2="124.4" y2="208.1" stroke="#cfcfc2"/>
<line x1="124.0" y1="276.6" x2="123.4" y2="278.3" stroke="#cfcfc2"/>
<line x1="123.4" y1="278.3" x2="122.8" y2="280.0" stroke="#cfcfc2"/>
<line x1="96.0" y1="248.6" x2="88.3" y2="248.6" stroke="#cfcfc2"/>
<line x1="88.3" y1="248.6" x2="80.7" y2="248.6" stroke="#cfcfc2"/>
<line x1="152.0" y1="248.6" x2="156.5" y2="248.8" stroke="#cfcfc2"/>
<line x1="156.5" y1="248.8" x2="161.0" y2="249.0" stroke="#cfcfc2"/>
<line x1="125.3" y1="175.4" x2="125.7" y2="179.1" stroke="#e2e2da"/>
<line x1="125.7" y1="179.1" x2="126.0" y2="182.8" stroke="#cfcfc2"/>
<line x1="119.5" y1="196.0" x2="121.2" y2="193.5" stroke="#e2e2da"/>
<line x1="121.2" y1="193.5" x2="122.8" y2="191.0" stroke="#cfcfc2"/>
<line x1="130.5" y1="193.0" x2="128.8" y2="190.8" stroke="#e2e2da"/>
<line x1="128.8" y1="190.8" x2="127.0" y2="188.5" stroke="#cfcfc2"/>
<line x1="46.1" y1="254.0" x2="49.8" y2="250.3" stroke="#e2e2da"/>
<line x1="49.8" y1="250.3" x2="53.5" y2="246.6" stroke="#cfcfc2"/>
<line x1="83.2" y1="243.6" x2="82.0" y2="246.1" stroke="#e2e2da"/>
<line x1="82.0" y1="246.1" x2="80.7" y2="248.6" stroke="#cfcfc2"/>
<line x1="74.0" y1="255.3" x2="73.0" y2="253.2" stroke="#e2e2da"/>
<line x1="73.0" y1="253.2" x2="72.1" y2="251.0" stroke="#cfcfc2"/>
<line x1="125.3" y1="314.6" x2="124.7" y2="310.9" stroke="#e2e2da"/>
<line x1="124.7" y1="310.9" x2="124.0" y2="307.2" stroke="#cfcfc2"/>
<line x1="119.5" y1="292.0" x2="120.8" y2="289.7" stroke="#e2e2da"/>
<line x1="120.8" y1="289.7" x2="122.0" y2="287.4" stroke="#cfcfc2"/>
<line x1="129.5" y1="297.0" x2="128.0" y2="295.3" stroke="#e2e2da"/>
<line x1="128.0" y1="295.3" x2="126.5" y2="293.6" stroke="#cfcfc2"/>
<line x1="159.6" y1="243.5" x2="162.2" y2="244.4" stroke="#e2e2da"/>
<line x1="162.2" y1="244.4" x2="164.8" y2="245.4" stroke="#cfcfc2"/>
<line x1="167.7" y1="256.2" x2="168.8" y2="254.5" stroke="#e2e2da"/>
<line x1="168.8" y1="254.5" x2="169.8" y2="252.8" stroke="#cfcfc2"/>
<line x1="186.6" y1="256.2" x2="183.1" y2="254.2" stroke="#e2e2da"/>
<line x1="183.1" y1="254.2" x2="179.7" y2="252.3" stroke="#cfcfc2"/>
<line x1="176.0" y1="241.0" x2="175.3" y2="243.2" stroke="#e2e2da"/>
<line x1="175.3" y1="243.2" x2="174.7" y2="245.4" stroke="#cfcfc2"/>
<line x1="194.6" y1="263.2" x2="195.9" y2="260.0" stroke="#e2e2da"/>
<line x1="195.9" y1="260.0" x2="197.2" y2="256.8" stroke="#cfcfc2"/>
<line x1="204.7" y1="242.1" x2="207.3" y2="245.3" stroke="#e2e2da"/>
<line x1="207.3" y1="245.3" x2="209.9" y2="248.6" stroke="#cfcfc2"/>
<line x1="219.9" y1="243.1" x2="219.1" y2="245.9" stroke="#e2e2da"/>
<line x1="219.1" y1="245.9" x2="218.3" y2="248.8" stroke="#cfcfc2"/>
<line x1="210.3" y1="271.7" x2="211.3" y2="267.9" stroke="#e2e2da"/>
<line x1="211.3" y1="267.9" x2="212.3" y2="264.2" stroke="#cfcfc2"/>
<line x1="226.4" y1="271.7" x2="223.9" y2="267.9" stroke="#e2e2da"/>
<line x1="223.9" y1="267.9" x2="221.3" y2="264.2" stroke="#cfcfc2"/>
<line x1="245.4" y1="240.1" x2="242.7" y2="241.6" stroke="#e2e2da"/>
<line x1="242.7" y1="241.6" x2="240.0" y2="243.1" stroke="#cfcfc2"/>
<line x1="247.4" y1="246.7" x2="243.9" y2="246.9" stroke="#e2e2da"/>
<line x1="243.9" y1="246.9" x2="240.4" y2="247.1" stroke="#cfcfc2"/>
<line x1="232.0" y1="239.5" x2="232.2" y2="241.5" stroke="#e2e2da"/>
<line x1="232.2" y1="241.5" x2="232.4" y2="243.5" stroke="#cfcfc2"/>
<line x1="242.4" y1="268.2" x2="244.2" y2="267.9" stroke="#e2e2da"/>
<line x1="244.2" y1="267.9" x2="246.0" y2="267.6" stroke="#cfcfc2"/>
<line x1="270.6" y1="278.9" x2="266.1" y2="276.3" stroke="#e2e2da"/>
<line x1="266.1" y1="276.3" x2="261.5" y2="273.7" stroke="#cfcfc2"/>
<line x1="260.0" y1="268.8" x2="258.6" y2="268.2" stroke="#e2e2da"/>
<line x1="258.6" y1="268.2" x2="257.1" y2="267.6" stroke="#cfcfc2"/>
<circle cx="101.4" cy="210.5" r="1.35" fill="url(#gH)"/>
<circle cx="85.9" cy="226.0" r="1.35" fill="url(#gH)"/>
<circle cx="101.4" cy="286.7" r="1.35" fill="url(#gH)"/>
<circle cx="85.9" cy="271.2" r="1.35" fill="url(#gH)"/>
<circle cx="146.6" cy="210.5" r="1.35" fill="url(#gH)"/>
<circle cx="162.1" cy="226.0" r="1.35" fill="url(#gH)"/>
<circle cx="146.6" cy="286.7" r="1.35" fill="url(#gH)"/>
<circle cx="162.1" cy="271.2" r="1.35" fill="url(#gH)"/>
<circle cx="125.3" cy="175.4" r="1.35" fill="url(#gH)"/>
<circle cx="119.5" cy="196.0" r="1.35" fill="url(#gH)"/>
<circle cx="130.5" cy="193.0" r="1.35" fill="url(#gH)"/>
<circle cx="42.4" cy="247.8" r="1.35" fill="url(#gH)"/>
<circle cx="46.1" cy="254.0" r="1.35" fill="url(#gH)"/>
<circle cx="83.2" cy="243.6" r="1.35" fill="url(#gH)"/>
<circle cx="74.0" cy="255.3" r="1.35" fill="url(#gH)"/>
<circle cx="125.3" cy="314.6" r="1.35" fill="url(#gH)"/>
<circle cx="119.5" cy="292.0" r="1.35" fill="url(#gH)"/>
<circle cx="129.5" cy="297.0" r="1.35" fill="url(#gH)"/>
<circle cx="159.6" cy="243.5" r="1.35" fill="url(#gH)"/>
<circle cx="167.7" cy="256.2" r="1.35" fill="url(#gH)"/>
<circle cx="186.6" cy="256.2" r="1.35" fill="url(#gH)"/>
<circle cx="176.0" cy="241.0" r="1.35" fill="url(#gH)"/>
<circle cx="194.6" cy="263.2" r="1.35" fill="url(#gH)"/>
<circle cx="204.7" cy="242.1" r="1.35" fill="url(#gH)"/>
<circle cx="219.9" cy="243.1" r="1.35" fill="url(#gH)"/>
<circle cx="210.3" cy="271.7" r="1.35" fill="url(#gH)"/>
<circle cx="226.4" cy="271.7" r="1.35" fill="url(#gH)"/>
<circle cx="245.4" cy="240.1" r="1.35" fill="url(#gH)"/>
<circle cx="247.4" cy="246.7" r="1.35" fill="url(#gH)"/>
<circle cx="232.0" cy="239.5" r="1.35" fill="url(#gH)"/>
<circle cx="242.4" cy="268.2" r="1.35" fill="url(#gH)"/>
<circle cx="270.6" cy="278.9" r="1.35" fill="url(#gH)"/>
<circle cx="260.0" cy="268.8" r="1.35" fill="url(#gH)"/>
<circle cx="124.0" cy="248.6" r="3.1" fill="url(#gCo)"/>
<circle cx="124.0" cy="220.6" r="2.45" fill="url(#gC)"/>
<circle cx="124.0" cy="276.6" r="2.45" fill="url(#gC)"/>
<circle cx="96.0" cy="248.6" r="2.45" fill="url(#gC)"/>
<circle cx="152.0" cy="248.6" r="2.45" fill="url(#gC)"/>
<circle cx="112.5" cy="237.1" r="2.4" fill="url(#gN)"/>
<circle cx="114.0" cy="225.6" r="2.45" fill="url(#gC)"/>
<circle cx="100.6" cy="238.1" r="2.45" fill="url(#gC)"/>
<circle cx="102.7" cy="219.4" r="2.45" fill="url(#gC)"/>
<circle cx="94.6" cy="227.3" r="2.45" fill="url(#gC)"/>
<circle cx="112.5" cy="260.1" r="2.4" fill="url(#gN)"/>
<circle cx="114.0" cy="271.6" r="2.45" fill="url(#gC)"/>
<circle cx="100.6" cy="259.1" r="2.45" fill="url(#gC)"/>
<circle cx="102.7" cy="277.8" r="2.45" fill="url(#gC)"/>
<circle cx="94.6" cy="269.9" r="2.45" fill="url(#gC)"/>
<circle cx="135.5" cy="237.1" r="2.4" fill="url(#gN)"/>
<circle cx="134.0" cy="225.6" r="2.45" fill="url(#gC)"/>
<circle cx="147.4" cy="238.1" r="2.45" fill="url(#gC)"/>
<circle cx="145.3" cy="219.4" r="2.45" fill="url(#gC)"/>
<circle cx="153.4" cy="227.3" r="2.45" fill="url(#gC)"/>
<circle cx="135.5" cy="260.1" r="2.4" fill="url(#gN)"/>
<circle cx="134.0" cy="271.6" r="2.45" fill="url(#gC)"/>
<circle cx="147.4" cy="259.1" r="2.45" fill="url(#gC)"/>
<circle cx="145.3" cy="277.8" r="2.45" fill="url(#gC)"/>
<circle cx="153.4" cy="269.9" r="2.45" fill="url(#gC)"/>
<circle cx="124.4" cy="208.1" r="2.45" fill="url(#gC)"/>
<circle cx="122.8" cy="202.0" r="2.45" fill="url(#gC)"/>
<circle cx="122.8" cy="191.0" r="2.45" fill="url(#gC)"/>
<circle cx="126.0" cy="182.8" r="2.45" fill="url(#gC)"/>
<circle cx="127.0" cy="188.5" r="2.45" fill="url(#gC)"/>
<circle cx="126.5" cy="200.9" r="2.45" fill="url(#gC)"/>
<circle cx="80.7" cy="248.6" r="2.45" fill="url(#gC)"/>
<circle cx="76.5" cy="244.6" r="2.45" fill="url(#gC)"/>
<circle cx="64.7" cy="244.6" r="2.45" fill="url(#gC)"/>
<circle cx="53.5" cy="246.6" r="2.45" fill="url(#gC)"/>
<circle cx="56.0" cy="250.3" r="2.45" fill="url(#gC)"/>
<circle cx="72.1" cy="251.0" r="2.45" fill="url(#gC)"/>
<circle cx="122.8" cy="280.0" r="2.45" fill="url(#gC)"/>
<circle cx="122.0" cy="287.4" r="2.45" fill="url(#gC)"/>
<circle cx="121.5" cy="298.5" r="2.45" fill="url(#gC)"/>
<circle cx="124.0" cy="307.2" r="2.45" fill="url(#gC)"/>
<circle cx="125.3" cy="303.5" r="2.45" fill="url(#gC)"/>
<circle cx="126.5" cy="293.6" r="2.45" fill="url(#gC)"/>
<circle cx="161.0" cy="249.0" r="2.45" fill="url(#gC)"/>
<circle cx="164.8" cy="245.4" r="2.45" fill="url(#gC)"/>
<circle cx="174.7" cy="245.4" r="2.45" fill="url(#gC)"/>
<circle cx="182.1" cy="249.0" r="2.45" fill="url(#gC)"/>
<circle cx="179.7" cy="252.3" r="2.45" fill="url(#gC)"/>
<circle cx="169.8" cy="252.8" r="2.45" fill="url(#gC)"/>
<circle cx="191.2" cy="249.2" r="2.4" fill="url(#gN)"/>
<circle cx="197.2" cy="256.8" r="2.45" fill="url(#gC)"/>
<circle cx="206.7" cy="256.4" r="2.45" fill="url(#gC)"/>
<circle cx="209.9" cy="248.6" r="2.45" fill="url(#gC)"/>
<circle cx="218.3" cy="248.8" r="2.45" fill="url(#gC)"/>
<circle cx="224.7" cy="256.8" r="2.45" fill="url(#gC)"/>
<circle cx="221.3" cy="264.2" r="2.45" fill="url(#gC)"/>
<circle cx="212.3" cy="264.2" r="2.45" fill="url(#gC)"/>
<circle cx="232.4" cy="256.8" r="2.4" fill="url(#gN)"/>
<circle cx="232.4" cy="252.2" r="2.45" fill="url(#gC)"/>
<circle cx="225.3" cy="248.2" r="2.45" fill="url(#gC)"/>
<circle cx="232.4" cy="243.5" r="2.45" fill="url(#gC)"/>
<circle cx="240.0" cy="243.1" r="2.45" fill="url(#gC)"/>
<circle cx="240.4" cy="247.1" r="2.45" fill="url(#gC)"/>
<circle cx="242.0" cy="262.2" r="2.45" fill="url(#gC)"/>
<circle cx="247.0" cy="262.2" r="2.45" fill="url(#gC)"/>
<circle cx="257.1" cy="267.6" r="2.45" fill="url(#gC)"/>
<circle cx="261.5" cy="273.7" r="2.45" fill="url(#gC)"/>
<circle cx="256.1" cy="273.3" r="2.45" fill="url(#gC)"/>
<circle cx="246.0" cy="267.6" r="2.45" fill="url(#gC)"/>
<line x1="501.0" y1="264.2" x2="496.3" y2="258.6" stroke="#e8c0b0"/>
<line x1="496.3" y1="258.6" x2="491.6" y2="253.0" stroke="#aab2dd"/>
<line x1="491.6" y1="253.0" x2="492.7" y2="247.9" stroke="#aab2dd"/>
<line x1="492.7" y1="247.9" x2="493.8" y2="242.8" stroke="#cfcfc2"/>
<line x1="491.6" y1="253.0" x2="486.2" y2="253.0" stroke="#aab2dd"/>
<line x1="486.2" y1="253.0" x2="480.8" y2="253.0" stroke="#cfcfc2"/>
<line x1="493.8" y1="242.8" x2="489.0" y2="239.6" stroke="#cfcfc2"/>
<line x1="489.0" y1="239.6" x2="484.2" y2="236.3" stroke="#cfcfc2"/>
<line x1="480.8" y1="253.0" x2="478.6" y2="247.9" stroke="#cfcfc2"/>
<line x1="478.6" y1="247.9" x2="476.3" y2="242.8" stroke="#cfcfc2"/>
<line x1="484.2" y1="236.3" x2="480.3" y2="239.6" stroke="#cfcfc2"/>
<line x1="480.3" y1="239.6" x2="476.3" y2="242.8" stroke="#cfcfc2"/>
<line x1="484.2" y1="236.3" x2="484.0" y2="232.3" stroke="#cfcfc2"/>
<line x1="484.0" y1="232.3" x2="483.7" y2="228.3" stroke="#e2e2da"/>
<line x1="476.3" y1="242.8" x2="472.5" y2="241.9" stroke="#cfcfc2"/>
<line x1="472.5" y1="241.9" x2="468.6" y2="240.9" stroke="#e2e2da"/>
<line x1="493.8" y1="242.8" x2="498.5" y2="240.9" stroke="#cfcfc2"/>
<line x1="498.5" y1="240.9" x2="503.2" y2="239.1" stroke="#cfcfc2"/>
<line x1="480.8" y1="253.0" x2="478.4" y2="257.5" stroke="#cfcfc2"/>
<line x1="478.4" y1="257.5" x2="475.9" y2="262.0" stroke="#cfcfc2"/>
<line x1="501.0" y1="264.2" x2="495.4" y2="268.9" stroke="#e8c0b0"/>
<line x1="495.4" y1="268.9" x2="489.8" y2="273.6" stroke="#aab2dd"/>
<line x1="489.8" y1="273.6" x2="490.0" y2="278.8" stroke="#aab2dd"/>
<line x1="490.0" y1="278.8" x2="490.2" y2="284.0" stroke="#cfcfc2"/>
<line x1="489.8" y1="273.6" x2="484.5" y2="272.7" stroke="#aab2dd"/>
<line x1="484.5" y1="272.7" x2="479.2" y2="271.8" stroke="#cfcfc2"/>
<line x1="490.2" y1="284.0" x2="484.9" y2="286.4" stroke="#cfcfc2"/>
<line x1="484.9" y1="286.4" x2="479.6" y2="288.7" stroke="#cfcfc2"/>
<line x1="479.2" y1="271.8" x2="476.1" y2="276.4" stroke="#cfcfc2"/>
<line x1="476.1" y1="276.4" x2="473.0" y2="281.0" stroke="#cfcfc2"/>
<line x1="479.6" y1="288.7" x2="476.3" y2="284.9" stroke="#cfcfc2"/>
<line x1="476.3" y1="284.9" x2="473.0" y2="281.0" stroke="#cfcfc2"/>
<line x1="479.6" y1="288.7" x2="478.7" y2="292.6" stroke="#cfcfc2"/>
<line x1="478.7" y1="292.6" x2="477.7" y2="296.6" stroke="#e2e2da"/>
<line x1="473.0" y1="281.0" x2="469.0" y2="281.2" stroke="#cfcfc2"/>
<line x1="469.0" y1="281.2" x2="465.1" y2="281.5" stroke="#e2e2da"/>
<line x1="490.2" y1="284.0" x2="494.5" y2="286.7" stroke="#cfcfc2"/>
<line x1="494.5" y1="286.7" x2="498.8" y2="289.3" stroke="#cfcfc2"/>
<line x1="479.2" y1="271.8" x2="477.5" y2="266.9" stroke="#cfcfc2"/>
<line x1="477.5" y1="266.9" x2="475.9" y2="262.0" stroke="#cfcfc2"/>
<line x1="501.0" y1="264.2" x2="506.6" y2="259.5" stroke="#e8c0b0"/>
<line x1="506.6" y1="259.5" x2="512.2" y2="254.8" stroke="#aab2dd"/>
<line x1="512.2" y1="254.8" x2="512.0" y2="249.6" stroke="#aab2dd"/>
<line x1="512.0" y1="249.6" x2="511.8" y2="244.4" stroke="#cfcfc2"/>
<line x1="512.2" y1="254.8" x2="517.5" y2="255.7" stroke="#aab2dd"/>
<line x1="517.5" y1="255.7" x2="522.8" y2="256.6" stroke="#cfcfc2"/>
<line x1="511.8" y1="244.4" x2="517.1" y2="242.0" stroke="#cfcfc2"/>
<line x1="517.1" y1="242.0" x2="522.4" y2="239.7" stroke="#cfcfc2"/>
<line x1="522.8" y1="256.6" x2="525.9" y2="252.0" stroke="#cfcfc2"/>
<line x1="525.9" y1="252.0" x2="529.0" y2="247.4" stroke="#cfcfc2"/>
<line x1="522.4" y1="239.7" x2="525.7" y2="243.5" stroke="#cfcfc2"/>
<line x1="525.7" y1="243.5" x2="529.0" y2="247.4" stroke="#cfcfc2"/>
<line x1="522.4" y1="239.7" x2="523.3" y2="235.8" stroke="#cfcfc2"/>
<line x1="523.3" y1="235.8" x2="524.3" y2="231.8" stroke="#e2e2da"/>
<line x1="529.0" y1="247.4" x2="533.0" y2="247.2" stroke="#cfcfc2"/>
<line x1="533.0" y1="247.2" x2="536.9" y2="246.9" stroke="#e2e2da"/>
<line x1="511.8" y1="244.4" x2="507.5" y2="241.7" stroke="#cfcfc2"/>
<line x1="507.5" y1="241.7" x2="503.2" y2="239.1" stroke="#cfcfc2"/>
<line x1="522.8" y1="256.6" x2="524.5" y2="261.5" stroke="#cfcfc2"/>
<line x1="524.5" y1="261.5" x2="526.1" y2="266.4" stroke="#cfcfc2"/>
<line x1="501.0" y1="264.2" x2="505.7" y2="269.8" stroke="#e8c0b0"/>
<line x1="505.7" y1="269.8" x2="510.4" y2="275.4" stroke="#aab2dd"/>
<line x1="510.4" y1="275.4" x2="509.3" y2="280.5" stroke="#aab2dd"/>
<line x1="509.3" y1="280.5" x2="508.2" y2="285.6" stroke="#cfcfc2"/>
<line x1="510.4" y1="275.4" x2="515.8" y2="275.4" stroke="#aab2dd"/>
<line x1="515.8" y1="275.4" x2="521.2" y2="275.4" stroke="#cfcfc2"/>
<line x1="508.2" y1="285.6" x2="513.0" y2="288.8" stroke="#cfcfc2"/>
<line x1="513.0" y1="288.8" x2="517.8" y2="292.1" stroke="#cfcfc2"/>
<line x1="521.2" y1="275.4" x2="523.4" y2="280.5" stroke="#cfcfc2"/>
<line x1="523.4" y1="280.5" x2="525.7" y2="285.6" stroke="#cfcfc2"/>
<line x1="517.8" y1="292.1" x2="521.7" y2="288.8" stroke="#cfcfc2"/>
<line x1="521.7" y1="288.8" x2="525.7" y2="285.6" stroke="#cfcfc2"/>
<line x1="517.8" y1="292.1" x2="518.0" y2="296.1" stroke="#cfcfc2"/>
<line x1="518.0" y1="296.1" x2="518.3" y2="300.1" stroke="#e2e2da"/>
<line x1="525.7" y1="285.6" x2="529.5" y2="286.5" stroke="#cfcfc2"/>
<line x1="529.5" y1="286.5" x2="533.4" y2="287.5" stroke="#e2e2da"/>
<line x1="508.2" y1="285.6" x2="503.5" y2="287.5" stroke="#cfcfc2"/>
<line x1="503.5" y1="287.5" x2="498.8" y2="289.3" stroke="#cfcfc2"/>
<line x1="521.2" y1="275.4" x2="523.6" y2="270.9" stroke="#cfcfc2"/>
<line x1="523.6" y1="270.9" x2="526.1" y2="266.4" stroke="#cfcfc2"/>
<line x1="504.2" y1="232.0" x2="506.0" y2="229.3" stroke="#cfcfc2"/>
<line x1="506.0" y1="229.3" x2="507.9" y2="226.7" stroke="#cfcfc2"/>
<line x1="507.9" y1="226.7" x2="508.2" y2="222.0" stroke="#cfcfc2"/>
<line x1="508.2" y1="222.0" x2="508.6" y2="217.3" stroke="#cfcfc2"/>
<line x1="508.6" y1="217.3" x2="507.4" y2="212.6" stroke="#cfcfc2"/>
<line x1="507.4" y1="212.6" x2="506.2" y2="207.9" stroke="#cfcfc2"/>
<line x1="506.2" y1="207.9" x2="504.6" y2="207.7" stroke="#cfcfc2"/>
<line x1="504.6" y1="207.7" x2="503.0" y2="207.4" stroke="#cfcfc2"/>
<line x1="503.0" y1="207.4" x2="502.4" y2="213.3" stroke="#cfcfc2"/>
<line x1="502.4" y1="213.3" x2="501.7" y2="219.2" stroke="#cfcfc2"/>
<line x1="501.7" y1="219.2" x2="502.9" y2="225.6" stroke="#cfcfc2"/>
<line x1="502.9" y1="225.6" x2="504.2" y2="232.0" stroke="#cfcfc2"/>
<line x1="464.6" y1="261.8" x2="461.8" y2="260.9" stroke="#cfcfc2"/>
<line x1="461.8" y1="260.9" x2="459.0" y2="260.0" stroke="#cfcfc2"/>
<line x1="459.0" y1="260.0" x2="456.9" y2="258.1" stroke="#cfcfc2"/>
<line x1="456.9" y1="258.1" x2="454.7" y2="256.3" stroke="#cfcfc2"/>
<line x1="454.7" y1="256.3" x2="449.8" y2="255.9" stroke="#cfcfc2"/>
<line x1="449.8" y1="255.9" x2="444.8" y2="255.6" stroke="#cfcfc2"/>
<line x1="444.8" y1="255.6" x2="445.1" y2="258.7" stroke="#cfcfc2"/>
<line x1="445.1" y1="258.7" x2="445.3" y2="261.8" stroke="#cfcfc2"/>
<line x1="445.3" y1="261.8" x2="449.8" y2="264.2" stroke="#cfcfc2"/>
<line x1="449.8" y1="264.2" x2="454.2" y2="266.7" stroke="#cfcfc2"/>
<line x1="454.2" y1="266.7" x2="459.4" y2="264.2" stroke="#cfcfc2"/>
<line x1="459.4" y1="264.2" x2="464.6" y2="261.8" stroke="#cfcfc2"/>
<line x1="495.5" y1="296.4" x2="495.1" y2="298.9" stroke="#cfcfc2"/>
<line x1="495.1" y1="298.9" x2="494.8" y2="301.3" stroke="#cfcfc2"/>
<line x1="494.8" y1="301.3" x2="493.9" y2="308.8" stroke="#cfcfc2"/>
<line x1="493.9" y1="308.8" x2="493.0" y2="316.2" stroke="#cfcfc2"/>
<line x1="493.0" y1="316.2" x2="491.1" y2="323.0" stroke="#cfcfc2"/>
<line x1="491.1" y1="323.0" x2="489.3" y2="329.8" stroke="#cfcfc2"/>
<line x1="489.3" y1="329.8" x2="490.3" y2="326.7" stroke="#cfcfc2"/>
<line x1="490.3" y1="326.7" x2="491.3" y2="323.6" stroke="#cfcfc2"/>
<line x1="491.3" y1="323.6" x2="492.6" y2="316.1" stroke="#cfcfc2"/>
<line x1="492.6" y1="316.1" x2="493.8" y2="308.7" stroke="#cfcfc2"/>
<line x1="493.8" y1="308.7" x2="494.6" y2="302.5" stroke="#cfcfc2"/>
<line x1="494.6" y1="302.5" x2="495.5" y2="296.4" stroke="#cfcfc2"/>
<line x1="536.7" y1="267.5" x2="538.7" y2="267.8" stroke="#cfcfc2"/>
<line x1="538.7" y1="267.8" x2="540.6" y2="268.1" stroke="#cfcfc2"/>
<line x1="540.6" y1="268.1" x2="545.2" y2="268.8" stroke="#cfcfc2"/>
<line x1="545.2" y1="268.8" x2="549.8" y2="269.4" stroke="#cfcfc2"/>
<line x1="549.8" y1="269.4" x2="553.5" y2="269.6" stroke="#cfcfc2"/>
<line x1="553.5" y1="269.6" x2="557.3" y2="269.8" stroke="#cfcfc2"/>
<line x1="557.3" y1="269.8" x2="556.3" y2="269.8" stroke="#cfcfc2"/>
<line x1="556.3" y1="269.8" x2="555.3" y2="269.8" stroke="#cfcfc2"/>
<line x1="555.3" y1="269.8" x2="550.4" y2="269.5" stroke="#cfcfc2"/>
<line x1="550.4" y1="269.5" x2="545.5" y2="269.1" stroke="#cfcfc2"/>
<line x1="545.5" y1="269.1" x2="541.1" y2="268.3" stroke="#cfcfc2"/>
<line x1="541.1" y1="268.3" x2="536.7" y2="267.5" stroke="#cfcfc2"/>
<line x1="557.3" y1="269.8" x2="562.0" y2="270.4" stroke="#cfcfc2"/>
<line x1="562.0" y1="270.4" x2="566.7" y2="271.0" stroke="#aab2dd"/>
<line x1="566.7" y1="271.0" x2="568.4" y2="268.6" stroke="#aab2dd"/>
<line x1="568.4" y1="268.6" x2="570.1" y2="266.1" stroke="#cfcfc2"/>
<line x1="570.1" y1="266.1" x2="574.2" y2="266.8" stroke="#cfcfc2"/>
<line x1="574.2" y1="266.8" x2="578.3" y2="267.5" stroke="#cfcfc2"/>
<line x1="578.3" y1="267.5" x2="579.4" y2="265.1" stroke="#cfcfc2"/>
<line x1="579.4" y1="265.1" x2="580.5" y2="262.6" stroke="#cfcfc2"/>
<line x1="580.5" y1="262.6" x2="584.4" y2="263.1" stroke="#cfcfc2"/>
<line x1="584.4" y1="263.1" x2="588.3" y2="263.6" stroke="#cfcfc2"/>
<line x1="588.3" y1="263.6" x2="591.5" y2="266.5" stroke="#cfcfc2"/>
<line x1="591.5" y1="266.5" x2="594.6" y2="269.4" stroke="#cfcfc2"/>
<line x1="594.6" y1="269.4" x2="593.6" y2="272.4" stroke="#cfcfc2"/>
<line x1="593.6" y1="272.4" x2="592.6" y2="275.3" stroke="#cfcfc2"/>
<line x1="592.6" y1="275.3" x2="588.9" y2="274.9" stroke="#cfcfc2"/>
<line x1="588.9" y1="274.9" x2="585.2" y2="274.4" stroke="#cfcfc2"/>
<line x1="585.2" y1="274.4" x2="581.8" y2="270.9" stroke="#cfcfc2"/>
<line x1="581.8" y1="270.9" x2="578.3" y2="267.5" stroke="#cfcfc2"/>
<line x1="594.6" y1="269.4" x2="598.5" y2="269.9" stroke="#cfcfc2"/>
<line x1="598.5" y1="269.9" x2="602.4" y2="270.4" stroke="#aab2dd"/>
<line x1="602.4" y1="270.4" x2="601.5" y2="267.9" stroke="#aab2dd"/>
<line x1="601.5" y1="267.9" x2="600.5" y2="265.5" stroke="#cfcfc2"/>
<line x1="600.5" y1="265.5" x2="604.0" y2="264.6" stroke="#cfcfc2"/>
<line x1="604.0" y1="264.6" x2="607.4" y2="263.6" stroke="#cfcfc2"/>
<line x1="607.4" y1="263.6" x2="609.3" y2="264.1" stroke="#cfcfc2"/>
<line x1="609.3" y1="264.1" x2="611.3" y2="264.5" stroke="#cfcfc2"/>
<line x1="602.4" y1="270.4" x2="606.8" y2="271.7" stroke="#aab2dd"/>
<line x1="606.8" y1="271.7" x2="611.3" y2="273.0" stroke="#cfcfc2"/>
<line x1="611.3" y1="273.0" x2="613.8" y2="271.1" stroke="#cfcfc2"/>
<line x1="613.8" y1="271.1" x2="616.2" y2="269.1" stroke="#cfcfc2"/>
<line x1="616.2" y1="269.1" x2="621.1" y2="270.5" stroke="#cfcfc2"/>
<line x1="621.1" y1="270.5" x2="626.0" y2="271.8" stroke="#cfcfc2"/>
<line x1="626.0" y1="271.8" x2="629.0" y2="275.4" stroke="#cfcfc2"/>
<line x1="629.0" y1="275.4" x2="631.9" y2="278.9" stroke="#cfcfc2"/>
<line x1="631.9" y1="278.9" x2="629.5" y2="280.5" stroke="#cfcfc2"/>
<line x1="629.5" y1="280.5" x2="627.0" y2="282.2" stroke="#cfcfc2"/>
<line x1="627.0" y1="282.2" x2="621.9" y2="280.8" stroke="#cfcfc2"/>
<line x1="621.9" y1="280.8" x2="616.8" y2="279.3" stroke="#cfcfc2"/>
<line x1="616.8" y1="279.3" x2="614.0" y2="276.1" stroke="#cfcfc2"/>
<line x1="614.0" y1="276.1" x2="611.3" y2="273.0" stroke="#cfcfc2"/>
<line x1="503.2" y1="239.1" x2="503.7" y2="235.5" stroke="#cfcfc2"/>
<line x1="503.7" y1="235.5" x2="504.2" y2="232.0" stroke="#cfcfc2"/>
<line x1="498.8" y1="289.3" x2="497.2" y2="292.9" stroke="#cfcfc2"/>
<line x1="497.2" y1="292.9" x2="495.5" y2="296.4" stroke="#cfcfc2"/>
<line x1="475.9" y1="262.0" x2="470.2" y2="261.9" stroke="#cfcfc2"/>
<line x1="470.2" y1="261.9" x2="464.6" y2="261.8" stroke="#cfcfc2"/>
<line x1="526.1" y1="266.4" x2="531.4" y2="266.9" stroke="#cfcfc2"/>
<line x1="531.4" y1="266.9" x2="536.7" y2="267.5" stroke="#cfcfc2"/>
<line x1="501.0" y1="264.2" x2="499.8" y2="261.1" stroke="#e8c0b0"/>
<line x1="499.8" y1="261.1" x2="498.5" y2="258.1" stroke="#eaa0a0"/>
<line x1="501.7" y1="201.2" x2="502.4" y2="204.3" stroke="#e2e2da"/>
<line x1="502.4" y1="204.3" x2="503.0" y2="207.4" stroke="#cfcfc2"/>
<line x1="497.0" y1="216.0" x2="499.4" y2="217.6" stroke="#e2e2da"/>
<line x1="499.4" y1="217.6" x2="501.7" y2="219.2" stroke="#cfcfc2"/>
<line x1="513.0" y1="221.0" x2="510.8" y2="219.2" stroke="#e2e2da"/>
<line x1="510.8" y1="219.2" x2="508.6" y2="217.3" stroke="#cfcfc2"/>
<line x1="508.0" y1="203.0" x2="507.1" y2="205.4" stroke="#e2e2da"/>
<line x1="507.1" y1="205.4" x2="506.2" y2="207.9" stroke="#cfcfc2"/>
<line x1="435.0" y1="251.4" x2="439.9" y2="253.5" stroke="#e2e2da"/>
<line x1="439.9" y1="253.5" x2="444.8" y2="255.6" stroke="#cfcfc2"/>
<line x1="463.4" y1="268.0" x2="464.0" y2="264.9" stroke="#e2e2da"/>
<line x1="464.0" y1="264.9" x2="464.6" y2="261.8" stroke="#cfcfc2"/>
<line x1="452.0" y1="270.5" x2="453.1" y2="268.6" stroke="#e2e2da"/>
<line x1="453.1" y1="268.6" x2="454.2" y2="266.7" stroke="#cfcfc2"/>
<line x1="456.0" y1="251.5" x2="455.4" y2="253.9" stroke="#e2e2da"/>
<line x1="455.4" y1="253.9" x2="454.7" y2="256.3" stroke="#cfcfc2"/>
<line x1="437.0" y1="258.0" x2="440.9" y2="256.8" stroke="#e2e2da"/>
<line x1="440.9" y1="256.8" x2="444.8" y2="255.6" stroke="#cfcfc2"/>
<line x1="488.9" y1="337.9" x2="489.1" y2="333.9" stroke="#e2e2da"/>
<line x1="489.1" y1="333.9" x2="489.3" y2="329.8" stroke="#cfcfc2"/>
<line x1="490.0" y1="305.0" x2="491.9" y2="306.9" stroke="#e2e2da"/>
<line x1="491.9" y1="306.9" x2="493.8" y2="308.7" stroke="#cfcfc2"/>
<line x1="497.0" y1="318.0" x2="495.0" y2="317.1" stroke="#e2e2da"/>
<line x1="495.0" y1="317.1" x2="493.0" y2="316.2" stroke="#cfcfc2"/>
<line x1="561.2" y1="271.0" x2="559.2" y2="270.4" stroke="#e2e2da"/>
<line x1="559.2" y1="270.4" x2="557.3" y2="269.8" stroke="#cfcfc2"/>
<line x1="565.2" y1="261.6" x2="567.7" y2="263.9" stroke="#e2e2da"/>
<line x1="567.7" y1="263.9" x2="570.1" y2="266.1" stroke="#cfcfc2"/>
<line x1="576.0" y1="258.0" x2="578.2" y2="260.3" stroke="#e2e2da"/>
<line x1="578.2" y1="260.3" x2="580.5" y2="262.6" stroke="#cfcfc2"/>
<line x1="589.1" y1="259.6" x2="588.7" y2="261.6" stroke="#e2e2da"/>
<line x1="588.7" y1="261.6" x2="588.3" y2="263.6" stroke="#cfcfc2"/>
<line x1="583.2" y1="278.9" x2="584.2" y2="276.6" stroke="#e2e2da"/>
<line x1="584.2" y1="276.6" x2="585.2" y2="274.4" stroke="#cfcfc2"/>
<line x1="598.5" y1="280.8" x2="595.5" y2="278.1" stroke="#e2e2da"/>
<line x1="595.5" y1="278.1" x2="592.6" y2="275.3" stroke="#cfcfc2"/>
<line x1="612.3" y1="259.6" x2="611.8" y2="262.1" stroke="#e2e2da"/>
<line x1="611.8" y1="262.1" x2="611.3" y2="264.5" stroke="#cfcfc2"/>
<line x1="615.0" y1="262.0" x2="613.1" y2="263.2" stroke="#e2e2da"/>
<line x1="613.1" y1="263.2" x2="611.3" y2="264.5" stroke="#cfcfc2"/>
<line x1="630.9" y1="269.4" x2="628.5" y2="270.6" stroke="#e2e2da"/>
<line x1="628.5" y1="270.6" x2="626.0" y2="271.8" stroke="#cfcfc2"/>
<line x1="641.3" y1="281.8" x2="636.6" y2="280.4" stroke="#e2e2da"/>
<line x1="636.6" y1="280.4" x2="631.9" y2="278.9" stroke="#cfcfc2"/>
<line x1="630.9" y1="287.1" x2="629.0" y2="284.6" stroke="#e2e2da"/>
<line x1="629.0" y1="284.6" x2="627.0" y2="282.2" stroke="#cfcfc2"/>
<circle cx="483.7" cy="228.3" r="1.35" fill="url(#gH)"/>
<circle cx="468.6" cy="240.9" r="1.35" fill="url(#gH)"/>
<circle cx="477.7" cy="296.6" r="1.35" fill="url(#gH)"/>
<circle cx="465.1" cy="281.5" r="1.35" fill="url(#gH)"/>
<circle cx="524.3" cy="231.8" r="1.35" fill="url(#gH)"/>
<circle cx="536.9" cy="246.9" r="1.35" fill="url(#gH)"/>
<circle cx="518.3" cy="300.1" r="1.35" fill="url(#gH)"/>
<circle cx="533.4" cy="287.5" r="1.35" fill="url(#gH)"/>
<circle cx="501.7" cy="201.2" r="1.35" fill="url(#gH)"/>
<circle cx="497.0" cy="216.0" r="1.35" fill="url(#gH)"/>
<circle cx="513.0" cy="221.0" r="1.35" fill="url(#gH)"/>
<circle cx="508.0" cy="203.0" r="1.35" fill="url(#gH)"/>
<circle cx="435.0" cy="251.4" r="1.35" fill="url(#gH)"/>
<circle cx="463.4" cy="268.0" r="1.35" fill="url(#gH)"/>
<circle cx="452.0" cy="270.5" r="1.35" fill="url(#gH)"/>
<circle cx="456.0" cy="251.5" r="1.35" fill="url(#gH)"/>
<circle cx="437.0" cy="258.0" r="1.35" fill="url(#gH)"/>
<circle cx="488.9" cy="337.9" r="1.35" fill="url(#gH)"/>
<circle cx="490.0" cy="305.0" r="1.35" fill="url(#gH)"/>
<circle cx="497.0" cy="318.0" r="1.35" fill="url(#gH)"/>
<circle cx="561.2" cy="271.0" r="1.35" fill="url(#gH)"/>
<circle cx="565.2" cy="261.6" r="1.35" fill="url(#gH)"/>
<circle cx="576.0" cy="258.0" r="1.35" fill="url(#gH)"/>
<circle cx="589.1" cy="259.6" r="1.35" fill="url(#gH)"/>
<circle cx="583.2" cy="278.9" r="1.35" fill="url(#gH)"/>
<circle cx="598.5" cy="280.8" r="1.35" fill="url(#gH)"/>
<circle cx="612.3" cy="259.6" r="1.35" fill="url(#gH)"/>
<circle cx="615.0" cy="262.0" r="1.35" fill="url(#gH)"/>
<circle cx="630.9" cy="269.4" r="1.35" fill="url(#gH)"/>
<circle cx="641.3" cy="281.8" r="1.35" fill="url(#gH)"/>
<circle cx="630.9" cy="287.1" r="1.35" fill="url(#gH)"/>
<circle cx="501.0" cy="264.2" r="3.1" fill="url(#gCo)"/>
<circle cx="503.2" cy="239.1" r="2.45" fill="url(#gC)"/>
<circle cx="498.8" cy="289.3" r="2.45" fill="url(#gC)"/>
<circle cx="475.9" cy="262.0" r="2.45" fill="url(#gC)"/>
<circle cx="526.1" cy="266.4" r="2.45" fill="url(#gC)"/>
<circle cx="491.6" cy="253.0" r="2.4" fill="url(#gN)"/>
<circle cx="493.8" cy="242.8" r="2.45" fill="url(#gC)"/>
<circle cx="480.8" cy="253.0" r="2.45" fill="url(#gC)"/>
<circle cx="484.2" cy="236.3" r="2.45" fill="url(#gC)"/>
<circle cx="476.3" cy="242.8" r="2.45" fill="url(#gC)"/>
<circle cx="489.8" cy="273.6" r="2.4" fill="url(#gN)"/>
<circle cx="490.2" cy="284.0" r="2.45" fill="url(#gC)"/>
<circle cx="479.2" cy="271.8" r="2.45" fill="url(#gC)"/>
<circle cx="479.6" cy="288.7" r="2.45" fill="url(#gC)"/>
<circle cx="473.0" cy="281.0" r="2.45" fill="url(#gC)"/>
<circle cx="512.2" cy="254.8" r="2.4" fill="url(#gN)"/>
<circle cx="511.8" cy="244.4" r="2.45" fill="url(#gC)"/>
<circle cx="522.8" cy="256.6" r="2.45" fill="url(#gC)"/>
<circle cx="522.4" cy="239.7" r="2.45" fill="url(#gC)"/>
<circle cx="529.0" cy="247.4" r="2.45" fill="url(#gC)"/>
<circle cx="510.4" cy="275.4" r="2.4" fill="url(#gN)"/>
<circle cx="508.2" cy="285.6" r="2.45" fill="url(#gC)"/>
<circle cx="521.2" cy="275.4" r="2.45" fill="url(#gC)"/>
<circle cx="517.8" cy="292.1" r="2.45" fill="url(#gC)"/>
<circle cx="525.7" cy="285.6" r="2.45" fill="url(#gC)"/>
<circle cx="504.2" cy="232.0" r="2.45" fill="url(#gC)"/>
<circle cx="507.9" cy="226.7" r="2.45" fill="url(#gC)"/>
<circle cx="508.6" cy="217.3" r="2.45" fill="url(#gC)"/>
<circle cx="506.2" cy="207.9" r="2.45" fill="url(#gC)"/>
<circle cx="503.0" cy="207.4" r="2.45" fill="url(#gC)"/>
<circle cx="501.7" cy="219.2" r="2.45" fill="url(#gC)"/>
<circle cx="464.6" cy="261.8" r="2.45" fill="url(#gC)"/>
<circle cx="459.0" cy="260.0" r="2.45" fill="url(#gC)"/>
<circle cx="454.7" cy="256.3" r="2.45" fill="url(#gC)"/>
<circle cx="444.8" cy="255.6" r="2.45" fill="url(#gC)"/>
<circle cx="445.3" cy="261.8" r="2.45" fill="url(#gC)"/>
<circle cx="454.2" cy="266.7" r="2.45" fill="url(#gC)"/>
<circle cx="495.5" cy="296.4" r="2.45" fill="url(#gC)"/>
<circle cx="494.8" cy="301.3" r="2.45" fill="url(#gC)"/>
<circle cx="493.0" cy="316.2" r="2.45" fill="url(#gC)"/>
<circle cx="489.3" cy="329.8" r="2.45" fill="url(#gC)"/>
<circle cx="491.3" cy="323.6" r="2.45" fill="url(#gC)"/>
<circle cx="493.8" cy="308.7" r="2.45" fill="url(#gC)"/>
<circle cx="536.7" cy="267.5" r="2.45" fill="url(#gC)"/>
<circle cx="540.6" cy="268.1" r="2.45" fill="url(#gC)"/>
<circle cx="549.8" cy="269.4" r="2.45" fill="url(#gC)"/>
<circle cx="557.3" cy="269.8" r="2.45" fill="url(#gC)"/>
<circle cx="555.3" cy="269.8" r="2.45" fill="url(#gC)"/>
<circle cx="545.5" cy="269.1" r="2.45" fill="url(#gC)"/>
<circle cx="566.7" cy="271.0" r="2.4" fill="url(#gN)"/>
<circle cx="570.1" cy="266.1" r="2.45" fill="url(#gC)"/>
<circle cx="578.3" cy="267.5" r="2.45" fill="url(#gC)"/>
<circle cx="580.5" cy="262.6" r="2.45" fill="url(#gC)"/>
<circle cx="588.3" cy="263.6" r="2.45" fill="url(#gC)"/>
<circle cx="594.6" cy="269.4" r="2.45" fill="url(#gC)"/>
<circle cx="592.6" cy="275.3" r="2.45" fill="url(#gC)"/>
<circle cx="585.2" cy="274.4" r="2.45" fill="url(#gC)"/>
<circle cx="602.4" cy="270.4" r="2.4" fill="url(#gN)"/>
<circle cx="600.5" cy="265.5" r="2.45" fill="url(#gC)"/>
<circle cx="607.4" cy="263.6" r="2.45" fill="url(#gC)"/>
<circle cx="611.3" cy="264.5" r="2.45" fill="url(#gC)"/>
<circle cx="611.3" cy="273.0" r="2.45" fill="url(#gC)"/>
<circle cx="616.2" cy="269.1" r="2.45" fill="url(#gC)"/>
<circle cx="626.0" cy="271.8" r="2.45" fill="url(#gC)"/>
<circle cx="631.9" cy="278.9" r="2.45" fill="url(#gC)"/>
<circle cx="627.0" cy="282.2" r="2.45" fill="url(#gC)"/>
<circle cx="616.8" cy="279.3" r="2.45" fill="url(#gC)"/>
<circle cx="498.5" cy="258.1" r="2.4" fill="url(#gO)"/>
<line x1="344.7" y1="410.7" x2="339.6" y2="405.6" stroke="#e8c0b0"/>
<line x1="339.6" y1="405.6" x2="334.6" y2="400.6" stroke="#aab2dd"/>
<line x1="334.6" y1="400.6" x2="335.2" y2="395.5" stroke="#aab2dd"/>
<line x1="335.2" y1="395.5" x2="335.9" y2="390.5" stroke="#cfcfc2"/>
<line x1="334.6" y1="400.6" x2="329.3" y2="401.0" stroke="#aab2dd"/>
<line x1="329.3" y1="401.0" x2="324.1" y2="401.5" stroke="#cfcfc2"/>
<line x1="335.9" y1="390.5" x2="330.9" y2="387.7" stroke="#cfcfc2"/>
<line x1="330.9" y1="387.7" x2="326.0" y2="385.0" stroke="#cfcfc2"/>
<line x1="324.1" y1="401.5" x2="321.5" y2="396.7" stroke="#cfcfc2"/>
<line x1="321.5" y1="396.7" x2="318.8" y2="392.0" stroke="#cfcfc2"/>
<line x1="326.0" y1="385.0" x2="322.4" y2="388.5" stroke="#cfcfc2"/>
<line x1="322.4" y1="388.5" x2="318.8" y2="392.0" stroke="#cfcfc2"/>
<line x1="326.0" y1="385.0" x2="325.4" y2="381.1" stroke="#cfcfc2"/>
<line x1="325.4" y1="381.1" x2="324.8" y2="377.2" stroke="#e2e2da"/>
<line x1="318.8" y1="392.0" x2="315.0" y2="391.4" stroke="#cfcfc2"/>
<line x1="315.0" y1="391.4" x2="311.2" y2="390.8" stroke="#e2e2da"/>
<line x1="335.9" y1="390.5" x2="340.3" y2="388.3" stroke="#cfcfc2"/>
<line x1="340.3" y1="388.3" x2="344.7" y2="386.1" stroke="#cfcfc2"/>
<line x1="324.1" y1="401.5" x2="322.1" y2="406.1" stroke="#cfcfc2"/>
<line x1="322.1" y1="406.1" x2="320.1" y2="410.7" stroke="#cfcfc2"/>
<line x1="344.7" y1="410.7" x2="339.6" y2="415.8" stroke="#e8c0b0"/>
<line x1="339.6" y1="415.8" x2="334.6" y2="420.8" stroke="#aab2dd"/>
<line x1="334.6" y1="420.8" x2="335.2" y2="425.9" stroke="#aab2dd"/>
<line x1="335.2" y1="425.9" x2="335.9" y2="430.9" stroke="#cfcfc2"/>
<line x1="334.6" y1="420.8" x2="329.3" y2="420.4" stroke="#aab2dd"/>
<line x1="329.3" y1="420.4" x2="324.1" y2="419.9" stroke="#cfcfc2"/>
<line x1="335.9" y1="430.9" x2="330.9" y2="433.7" stroke="#cfcfc2"/>
<line x1="330.9" y1="433.7" x2="326.0" y2="436.4" stroke="#cfcfc2"/>
<line x1="324.1" y1="419.9" x2="321.5" y2="424.7" stroke="#cfcfc2"/>
<line x1="321.5" y1="424.7" x2="318.8" y2="429.4" stroke="#cfcfc2"/>
<line x1="326.0" y1="436.4" x2="322.4" y2="432.9" stroke="#cfcfc2"/>
<line x1="322.4" y1="432.9" x2="318.8" y2="429.4" stroke="#cfcfc2"/>
<line x1="326.0" y1="436.4" x2="325.4" y2="440.3" stroke="#cfcfc2"/>
<line x1="325.4" y1="440.3" x2="324.8" y2="444.2" stroke="#e2e2da"/>
<line x1="318.8" y1="429.4" x2="315.0" y2="430.0" stroke="#cfcfc2"/>
<line x1="315.0" y1="430.0" x2="311.2" y2="430.6" stroke="#e2e2da"/>
<line x1="335.9" y1="430.9" x2="340.3" y2="433.1" stroke="#cfcfc2"/>
<line x1="340.3" y1="433.1" x2="344.7" y2="435.3" stroke="#cfcfc2"/>
<line x1="324.1" y1="419.9" x2="322.1" y2="415.3" stroke="#cfcfc2"/>
<line x1="322.1" y1="415.3" x2="320.1" y2="410.7" stroke="#cfcfc2"/>
<line x1="344.7" y1="410.7" x2="349.8" y2="405.6" stroke="#e8c0b0"/>
<line x1="349.8" y1="405.6" x2="354.8" y2="400.6" stroke="#aab2dd"/>
<line x1="354.8" y1="400.6" x2="354.2" y2="395.5" stroke="#aab2dd"/>
<line x1="354.2" y1="395.5" x2="353.5" y2="390.5" stroke="#cfcfc2"/>
<line x1="354.8" y1="400.6" x2="360.1" y2="401.0" stroke="#aab2dd"/>
<line x1="360.1" y1="401.0" x2="365.3" y2="401.5" stroke="#cfcfc2"/>
<line x1="353.5" y1="390.5" x2="358.5" y2="387.7" stroke="#cfcfc2"/>
<line x1="358.5" y1="387.7" x2="363.4" y2="385.0" stroke="#cfcfc2"/>
<line x1="365.3" y1="401.5" x2="367.9" y2="396.7" stroke="#cfcfc2"/>
<line x1="367.9" y1="396.7" x2="370.6" y2="392.0" stroke="#cfcfc2"/>
<line x1="363.4" y1="385.0" x2="367.0" y2="388.5" stroke="#cfcfc2"/>
<line x1="367.0" y1="388.5" x2="370.6" y2="392.0" stroke="#cfcfc2"/>
<line x1="363.4" y1="385.0" x2="364.0" y2="381.1" stroke="#cfcfc2"/>
<line x1="364.0" y1="381.1" x2="364.6" y2="377.2" stroke="#e2e2da"/>
<line x1="370.6" y1="392.0" x2="374.4" y2="391.4" stroke="#cfcfc2"/>
<line x1="374.4" y1="391.4" x2="378.2" y2="390.8" stroke="#e2e2da"/>
<line x1="353.5" y1="390.5" x2="349.1" y2="388.3" stroke="#cfcfc2"/>
<line x1="349.1" y1="388.3" x2="344.7" y2="386.1" stroke="#cfcfc2"/>
<line x1="365.3" y1="401.5" x2="367.3" y2="406.1" stroke="#cfcfc2"/>
<line x1="367.3" y1="406.1" x2="369.3" y2="410.7" stroke="#cfcfc2"/>
<line x1="344.7" y1="410.7" x2="349.8" y2="415.8" stroke="#e8c0b0"/>
<line x1="349.8" y1="415.8" x2="354.8" y2="420.8" stroke="#aab2dd"/>
<line x1="354.8" y1="420.8" x2="354.2" y2="425.9" stroke="#aab2dd"/>
<line x1="354.2" y1="425.9" x2="353.5" y2="430.9" stroke="#cfcfc2"/>
<line x1="354.8" y1="420.8" x2="360.1" y2="420.4" stroke="#aab2dd"/>
<line x1="360.1" y1="420.4" x2="365.3" y2="419.9" stroke="#cfcfc2"/>
<line x1="353.5" y1="430.9" x2="358.5" y2="433.7" stroke="#cfcfc2"/>
<line x1="358.5" y1="433.7" x2="363.4" y2="436.4" stroke="#cfcfc2"/>
<line x1="365.3" y1="419.9" x2="367.9" y2="424.7" stroke="#cfcfc2"/>
<line x1="367.9" y1="424.7" x2="370.6" y2="429.4" stroke="#cfcfc2"/>
<line x1="363.4" y1="436.4" x2="367.0" y2="432.9" stroke="#cfcfc2"/>
<line x1="367.0" y1="432.9" x2="370.6" y2="429.4" stroke="#cfcfc2"/>
<line x1="363.4" y1="436.4" x2="364.0" y2="440.3" stroke="#cfcfc2"/>
<line x1="364.0" y1="440.3" x2="364.6" y2="444.2" stroke="#e2e2da"/>
<line x1="370.6" y1="429.4" x2="374.4" y2="430.0" stroke="#cfcfc2"/>
<line x1="374.4" y1="430.0" x2="378.2" y2="430.6" stroke="#e2e2da"/>
<line x1="353.5" y1="430.9" x2="349.1" y2="433.1" stroke="#cfcfc2"/>
<line x1="349.1" y1="433.1" x2="344.7" y2="435.3" stroke="#cfcfc2"/>
<line x1="365.3" y1="419.9" x2="367.3" y2="415.3" stroke="#cfcfc2"/>
<line x1="367.3" y1="415.3" x2="369.3" y2="410.7" stroke="#cfcfc2"/>
<line x1="341.7" y1="374.1" x2="344.5" y2="370.9" stroke="#cfcfc2"/>
<line x1="344.5" y1="370.9" x2="347.4" y2="367.6" stroke="#cfcfc2"/>
<line x1="347.4" y1="367.6" x2="347.0" y2="363.1" stroke="#cfcfc2"/>
<line x1="347.0" y1="363.1" x2="346.7" y2="358.5" stroke="#cfcfc2"/>
<line x1="346.7" y1="358.5" x2="342.9" y2="355.4" stroke="#cfcfc2"/>
<line x1="342.9" y1="355.4" x2="339.2" y2="352.3" stroke="#cfcfc2"/>
<line x1="339.2" y1="352.3" x2="335.6" y2="355.1" stroke="#cfcfc2"/>
<line x1="335.6" y1="355.1" x2="332.0" y2="358.0" stroke="#cfcfc2"/>
<line x1="332.0" y1="358.0" x2="332.8" y2="362.8" stroke="#cfcfc2"/>
<line x1="332.8" y1="362.8" x2="333.6" y2="367.6" stroke="#cfcfc2"/>
<line x1="333.6" y1="367.6" x2="337.6" y2="370.9" stroke="#cfcfc2"/>
<line x1="337.6" y1="370.9" x2="341.7" y2="374.1" stroke="#cfcfc2"/>
<line x1="315.7" y1="413.6" x2="313.4" y2="410.8" stroke="#cfcfc2"/>
<line x1="313.4" y1="410.8" x2="311.0" y2="408.0" stroke="#cfcfc2"/>
<line x1="311.0" y1="408.0" x2="307.8" y2="408.6" stroke="#cfcfc2"/>
<line x1="307.8" y1="408.6" x2="304.6" y2="409.2" stroke="#cfcfc2"/>
<line x1="304.6" y1="409.2" x2="300.9" y2="409.8" stroke="#cfcfc2"/>
<line x1="300.9" y1="409.8" x2="297.2" y2="410.4" stroke="#cfcfc2"/>
<line x1="297.2" y1="410.4" x2="300.1" y2="411.7" stroke="#cfcfc2"/>
<line x1="300.1" y1="411.7" x2="303.0" y2="413.0" stroke="#cfcfc2"/>
<line x1="303.0" y1="413.0" x2="306.3" y2="412.4" stroke="#cfcfc2"/>
<line x1="306.3" y1="412.4" x2="309.6" y2="411.7" stroke="#cfcfc2"/>
<line x1="309.6" y1="411.7" x2="312.6" y2="412.6" stroke="#cfcfc2"/>
<line x1="312.6" y1="412.6" x2="315.7" y2="413.6" stroke="#cfcfc2"/>
<line x1="344.2" y1="447.5" x2="345.4" y2="450.6" stroke="#cfcfc2"/>
<line x1="345.4" y1="450.6" x2="346.7" y2="453.7" stroke="#cfcfc2"/>
<line x1="346.7" y1="453.7" x2="346.7" y2="458.0" stroke="#cfcfc2"/>
<line x1="346.7" y1="458.0" x2="346.7" y2="462.3" stroke="#cfcfc2"/>
<line x1="346.7" y1="462.3" x2="345.9" y2="466.6" stroke="#cfcfc2"/>
<line x1="345.9" y1="466.6" x2="345.0" y2="471.0" stroke="#cfcfc2"/>
<line x1="345.0" y1="471.0" x2="344.0" y2="469.1" stroke="#cfcfc2"/>
<line x1="344.0" y1="469.1" x2="343.0" y2="467.3" stroke="#cfcfc2"/>
<line x1="343.0" y1="467.3" x2="342.4" y2="461.8" stroke="#cfcfc2"/>
<line x1="342.4" y1="461.8" x2="341.7" y2="456.2" stroke="#cfcfc2"/>
<line x1="341.7" y1="456.2" x2="342.9" y2="451.9" stroke="#cfcfc2"/>
<line x1="342.9" y1="451.9" x2="344.2" y2="447.5" stroke="#cfcfc2"/>
<line x1="381.0" y1="409.8" x2="384.1" y2="408.2" stroke="#cfcfc2"/>
<line x1="384.1" y1="408.2" x2="387.1" y2="406.6" stroke="#cfcfc2"/>
<line x1="387.1" y1="406.6" x2="392.1" y2="406.4" stroke="#cfcfc2"/>
<line x1="392.1" y1="406.4" x2="397.1" y2="406.2" stroke="#cfcfc2"/>
<line x1="397.1" y1="406.2" x2="399.6" y2="407.4" stroke="#cfcfc2"/>
<line x1="399.6" y1="407.4" x2="402.1" y2="408.6" stroke="#cfcfc2"/>
<line x1="402.1" y1="408.6" x2="399.1" y2="410.4" stroke="#cfcfc2"/>
<line x1="399.1" y1="410.4" x2="396.1" y2="412.2" stroke="#cfcfc2"/>
<line x1="396.1" y1="412.2" x2="390.9" y2="412.4" stroke="#cfcfc2"/>
<line x1="390.9" y1="412.4" x2="385.7" y2="412.6" stroke="#cfcfc2"/>
<line x1="385.7" y1="412.6" x2="383.4" y2="411.2" stroke="#cfcfc2"/>
<line x1="383.4" y1="411.2" x2="381.0" y2="409.8" stroke="#cfcfc2"/>
<line x1="402.1" y1="408.6" x2="407.4" y2="408.6" stroke="#cfcfc2"/>
<line x1="407.4" y1="408.6" x2="412.6" y2="408.6" stroke="#aab2dd"/>
<line x1="412.6" y1="408.6" x2="415.2" y2="405.1" stroke="#aab2dd"/>
<line x1="415.2" y1="405.1" x2="417.8" y2="401.5" stroke="#cfcfc2"/>
<line x1="417.8" y1="401.5" x2="423.2" y2="401.1" stroke="#cfcfc2"/>
<line x1="423.2" y1="401.1" x2="428.7" y2="400.7" stroke="#cfcfc2"/>
<line x1="428.7" y1="400.7" x2="431.0" y2="396.6" stroke="#cfcfc2"/>
<line x1="431.0" y1="396.6" x2="433.3" y2="392.5" stroke="#cfcfc2"/>
<line x1="433.3" y1="392.5" x2="438.3" y2="392.1" stroke="#cfcfc2"/>
<line x1="438.3" y1="392.1" x2="443.3" y2="391.7" stroke="#cfcfc2"/>
<line x1="443.3" y1="391.7" x2="446.9" y2="395.9" stroke="#cfcfc2"/>
<line x1="446.9" y1="395.9" x2="450.4" y2="400.1" stroke="#cfcfc2"/>
<line x1="450.4" y1="400.1" x2="448.2" y2="404.1" stroke="#cfcfc2"/>
<line x1="448.2" y1="404.1" x2="446.0" y2="408.2" stroke="#cfcfc2"/>
<line x1="446.0" y1="408.2" x2="440.6" y2="408.2" stroke="#cfcfc2"/>
<line x1="440.6" y1="408.2" x2="435.3" y2="408.2" stroke="#cfcfc2"/>
<line x1="435.3" y1="408.2" x2="432.0" y2="404.4" stroke="#cfcfc2"/>
<line x1="432.0" y1="404.4" x2="428.7" y2="400.7" stroke="#cfcfc2"/>
<line x1="450.4" y1="400.1" x2="455.6" y2="399.6" stroke="#cfcfc2"/>
<line x1="455.6" y1="399.6" x2="460.8" y2="399.1" stroke="#aab2dd"/>
<line x1="460.8" y1="399.1" x2="460.1" y2="396.1" stroke="#aab2dd"/>
<line x1="460.1" y1="396.1" x2="459.4" y2="393.1" stroke="#cfcfc2"/>
<line x1="459.4" y1="393.1" x2="463.9" y2="389.6" stroke="#cfcfc2"/>
<line x1="463.9" y1="389.6" x2="468.5" y2="386.1" stroke="#cfcfc2"/>
<line x1="468.5" y1="386.1" x2="471.2" y2="384.9" stroke="#cfcfc2"/>
<line x1="471.2" y1="384.9" x2="473.9" y2="383.7" stroke="#cfcfc2"/>
<line x1="473.9" y1="383.7" x2="473.0" y2="385.9" stroke="#cfcfc2"/>
<line x1="473.0" y1="385.9" x2="472.1" y2="388.1" stroke="#cfcfc2"/>
<line x1="460.8" y1="399.1" x2="465.5" y2="400.6" stroke="#aab2dd"/>
<line x1="465.5" y1="400.6" x2="470.1" y2="402.1" stroke="#cfcfc2"/>
<line x1="470.1" y1="402.1" x2="475.3" y2="404.1" stroke="#cfcfc2"/>
<line x1="475.3" y1="404.1" x2="480.5" y2="406.2" stroke="#cfcfc2"/>
<line x1="480.5" y1="406.2" x2="485.0" y2="409.2" stroke="#cfcfc2"/>
<line x1="485.0" y1="409.2" x2="489.5" y2="412.2" stroke="#cfcfc2"/>
<line x1="489.5" y1="412.2" x2="489.0" y2="413.2" stroke="#cfcfc2"/>
<line x1="489.0" y1="413.2" x2="488.5" y2="414.2" stroke="#cfcfc2"/>
<line x1="488.5" y1="414.2" x2="485.0" y2="411.7" stroke="#cfcfc2"/>
<line x1="485.0" y1="411.7" x2="481.5" y2="409.2" stroke="#cfcfc2"/>
<line x1="481.5" y1="409.2" x2="476.8" y2="407.1" stroke="#cfcfc2"/>
<line x1="476.8" y1="407.1" x2="472.0" y2="405.0" stroke="#cfcfc2"/>
<line x1="472.0" y1="405.0" x2="471.1" y2="403.6" stroke="#cfcfc2"/>
<line x1="471.1" y1="403.6" x2="470.1" y2="402.1" stroke="#cfcfc2"/>
<line x1="334.8" y1="401.3" x2="336.1" y2="407.1" stroke="#eaa0a0"/>
<line x1="336.1" y1="407.1" x2="337.3" y2="412.9" stroke="#eaa0a0"/>
<line x1="344.7" y1="386.1" x2="343.2" y2="380.1" stroke="#cfcfc2"/>
<line x1="343.2" y1="380.1" x2="341.7" y2="374.1" stroke="#cfcfc2"/>
<line x1="344.7" y1="435.3" x2="344.4" y2="441.4" stroke="#cfcfc2"/>
<line x1="344.4" y1="441.4" x2="344.2" y2="447.5" stroke="#cfcfc2"/>
<line x1="320.1" y1="410.7" x2="317.9" y2="412.1" stroke="#cfcfc2"/>
<line x1="317.9" y1="412.1" x2="315.7" y2="413.6" stroke="#cfcfc2"/>
<line x1="369.3" y1="410.7" x2="375.2" y2="410.2" stroke="#cfcfc2"/>
<line x1="375.2" y1="410.2" x2="381.0" y2="409.8" stroke="#cfcfc2"/>
<line x1="344.7" y1="410.7" x2="341.0" y2="411.8" stroke="#e8c0b0"/>
<line x1="341.0" y1="411.8" x2="337.3" y2="412.9" stroke="#eaa0a0"/>
<line x1="337.3" y1="344.4" x2="338.2" y2="348.4" stroke="#e2e2da"/>
<line x1="338.2" y1="348.4" x2="339.2" y2="352.3" stroke="#cfcfc2"/>
<line x1="327.4" y1="373.3" x2="326.1" y2="375.2" stroke="#e2e2da"/>
<line x1="326.1" y1="375.2" x2="324.8" y2="377.2" stroke="#e2e2da"/>
<line x1="352.8" y1="373.3" x2="350.1" y2="370.5" stroke="#e2e2da"/>
<line x1="350.1" y1="370.5" x2="347.4" y2="367.6" stroke="#cfcfc2"/>
<line x1="325.0" y1="352.0" x2="328.5" y2="355.0" stroke="#e2e2da"/>
<line x1="328.5" y1="355.0" x2="332.0" y2="358.0" stroke="#cfcfc2"/>
<line x1="351.0" y1="352.0" x2="348.9" y2="355.2" stroke="#e2e2da"/>
<line x1="348.9" y1="355.2" x2="346.7" y2="358.5" stroke="#cfcfc2"/>
<line x1="288.5" y1="408.7" x2="292.9" y2="409.5" stroke="#e2e2da"/>
<line x1="292.9" y1="409.5" x2="297.2" y2="410.4" stroke="#cfcfc2"/>
<line x1="293.0" y1="412.0" x2="295.1" y2="411.2" stroke="#e2e2da"/>
<line x1="295.1" y1="411.2" x2="297.2" y2="410.4" stroke="#cfcfc2"/>
<line x1="343.7" y1="477.9" x2="344.4" y2="474.4" stroke="#e2e2da"/>
<line x1="344.4" y1="474.4" x2="345.0" y2="471.0" stroke="#cfcfc2"/>
<line x1="339.9" y1="450.1" x2="342.0" y2="448.8" stroke="#e2e2da"/>
<line x1="342.0" y1="448.8" x2="344.2" y2="447.5" stroke="#cfcfc2"/>
<line x1="348.3" y1="448.6" x2="346.2" y2="448.1" stroke="#e2e2da"/>
<line x1="346.2" y1="448.1" x2="344.2" y2="447.5" stroke="#cfcfc2"/>
<line x1="348.3" y1="466.3" x2="347.5" y2="464.3" stroke="#e2e2da"/>
<line x1="347.5" y1="464.3" x2="346.7" y2="462.3" stroke="#cfcfc2"/>
<line x1="339.4" y1="471.7" x2="342.2" y2="471.4" stroke="#e2e2da"/>
<line x1="342.2" y1="471.4" x2="345.0" y2="471.0" stroke="#cfcfc2"/>
<line x1="379.6" y1="415.8" x2="380.3" y2="412.8" stroke="#e2e2da"/>
<line x1="380.3" y1="412.8" x2="381.0" y2="409.8" stroke="#cfcfc2"/>
<line x1="400.1" y1="415.8" x2="398.1" y2="414.0" stroke="#e2e2da"/>
<line x1="398.1" y1="414.0" x2="396.1" y2="412.2" stroke="#cfcfc2"/>
<line x1="413.2" y1="395.7" x2="415.5" y2="398.6" stroke="#e2e2da"/>
<line x1="415.5" y1="398.6" x2="417.8" y2="401.5" stroke="#cfcfc2"/>
<line x1="428.3" y1="387.1" x2="430.8" y2="389.8" stroke="#e2e2da"/>
<line x1="430.8" y1="389.8" x2="433.3" y2="392.5" stroke="#cfcfc2"/>
<line x1="446.0" y1="386.1" x2="444.6" y2="388.9" stroke="#e2e2da"/>
<line x1="444.6" y1="388.9" x2="443.3" y2="391.7" stroke="#cfcfc2"/>
<line x1="431.9" y1="415.8" x2="433.6" y2="412.0" stroke="#e2e2da"/>
<line x1="433.6" y1="412.0" x2="435.3" y2="408.2" stroke="#cfcfc2"/>
<line x1="451.4" y1="415.2" x2="448.7" y2="411.7" stroke="#e2e2da"/>
<line x1="448.7" y1="411.7" x2="446.0" y2="408.2" stroke="#cfcfc2"/>
<line x1="480.1" y1="378.4" x2="477.0" y2="381.0" stroke="#e2e2da"/>
<line x1="477.0" y1="381.0" x2="473.9" y2="383.7" stroke="#cfcfc2"/>
<line x1="498.6" y1="417.8" x2="494.1" y2="415.0" stroke="#e2e2da"/>
<line x1="494.1" y1="415.0" x2="489.5" y2="412.2" stroke="#cfcfc2"/>
<line x1="494.6" y1="419.2" x2="491.6" y2="416.7" stroke="#e2e2da"/>
<line x1="491.6" y1="416.7" x2="488.5" y2="414.2" stroke="#cfcfc2"/>
<line x1="341.0" y1="399.5" x2="337.9" y2="400.4" stroke="#e2e2da"/>
<line x1="337.9" y1="400.4" x2="334.8" y2="401.3" stroke="#eaa0a0"/>
<circle cx="324.8" cy="377.2" r="1.35" fill="url(#gH)"/>
<circle cx="311.2" cy="390.8" r="1.35" fill="url(#gH)"/>
<circle cx="324.8" cy="444.2" r="1.35" fill="url(#gH)"/>
<circle cx="311.2" cy="430.6" r="1.35" fill="url(#gH)"/>
<circle cx="364.6" cy="377.2" r="1.35" fill="url(#gH)"/>
<circle cx="378.2" cy="390.8" r="1.35" fill="url(#gH)"/>
<circle cx="364.6" cy="444.2" r="1.35" fill="url(#gH)"/>
<circle cx="378.2" cy="430.6" r="1.35" fill="url(#gH)"/>
<circle cx="337.3" cy="344.4" r="1.35" fill="url(#gH)"/>
<circle cx="327.4" cy="373.3" r="1.35" fill="url(#gH)"/>
<circle cx="352.8" cy="373.3" r="1.35" fill="url(#gH)"/>
<circle cx="325.0" cy="352.0" r="1.35" fill="url(#gH)"/>
<circle cx="351.0" cy="352.0" r="1.35" fill="url(#gH)"/>
<circle cx="288.5" cy="408.7" r="1.35" fill="url(#gH)"/>
<circle cx="293.0" cy="412.0" r="1.35" fill="url(#gH)"/>
<circle cx="343.7" cy="477.9" r="1.35" fill="url(#gH)"/>
<circle cx="339.9" cy="450.1" r="1.35" fill="url(#gH)"/>
<circle cx="348.3" cy="448.6" r="1.35" fill="url(#gH)"/>
<circle cx="348.3" cy="466.3" r="1.35" fill="url(#gH)"/>
<circle cx="339.4" cy="471.7" r="1.35" fill="url(#gH)"/>
<circle cx="379.6" cy="415.8" r="1.35" fill="url(#gH)"/>
<circle cx="400.1" cy="415.8" r="1.35" fill="url(#gH)"/>
<circle cx="413.2" cy="395.7" r="1.35" fill="url(#gH)"/>
<circle cx="428.3" cy="387.1" r="1.35" fill="url(#gH)"/>
<circle cx="446.0" cy="386.1" r="1.35" fill="url(#gH)"/>
<circle cx="431.9" cy="415.8" r="1.35" fill="url(#gH)"/>
<circle cx="451.4" cy="415.2" r="1.35" fill="url(#gH)"/>
<circle cx="480.1" cy="378.4" r="1.35" fill="url(#gH)"/>
<circle cx="498.6" cy="417.8" r="1.35" fill="url(#gH)"/>
<circle cx="494.6" cy="419.2" r="1.35" fill="url(#gH)"/>
<circle cx="341.0" cy="399.5" r="1.35" fill="url(#gH)"/>
<circle cx="344.7" cy="410.7" r="3.1" fill="url(#gCo)"/>
<circle cx="344.7" cy="386.1" r="2.45" fill="url(#gC)"/>
<circle cx="344.7" cy="435.3" r="2.45" fill="url(#gC)"/>
<circle cx="320.1" cy="410.7" r="2.45" fill="url(#gC)"/>
<circle cx="369.3" cy="410.7" r="2.45" fill="url(#gC)"/>
<circle cx="334.6" cy="400.6" r="2.4" fill="url(#gN)"/>
<circle cx="335.9" cy="390.5" r="2.45" fill="url(#gC)"/>
<circle cx="324.1" cy="401.5" r="2.45" fill="url(#gC)"/>
<circle cx="326.0" cy="385.0" r="2.45" fill="url(#gC)"/>
<circle cx="318.8" cy="392.0" r="2.45" fill="url(#gC)"/>
<circle cx="334.6" cy="420.8" r="2.4" fill="url(#gN)"/>
<circle cx="335.9" cy="430.9" r="2.45" fill="url(#gC)"/>
<circle cx="324.1" cy="419.9" r="2.45" fill="url(#gC)"/>
<circle cx="326.0" cy="436.4" r="2.45" fill="url(#gC)"/>
<circle cx="318.8" cy="429.4" r="2.45" fill="url(#gC)"/>
<circle cx="354.8" cy="400.6" r="2.4" fill="url(#gN)"/>
<circle cx="353.5" cy="390.5" r="2.45" fill="url(#gC)"/>
<circle cx="365.3" cy="401.5" r="2.45" fill="url(#gC)"/>
<circle cx="363.4" cy="385.0" r="2.45" fill="url(#gC)"/>
<circle cx="370.6" cy="392.0" r="2.45" fill="url(#gC)"/>
<circle cx="354.8" cy="420.8" r="2.4" fill="url(#gN)"/>
<circle cx="353.5" cy="430.9" r="2.45" fill="url(#gC)"/>
<circle cx="365.3" cy="419.9" r="2.45" fill="url(#gC)"/>
<circle cx="363.4" cy="436.4" r="2.45" fill="url(#gC)"/>
<circle cx="370.6" cy="429.4" r="2.45" fill="url(#gC)"/>
<circle cx="341.7" cy="374.1" r="2.45" fill="url(#gC)"/>
<circle cx="347.4" cy="367.6" r="2.45" fill="url(#gC)"/>
<circle cx="346.7" cy="358.5" r="2.45" fill="url(#gC)"/>
<circle cx="339.2" cy="352.3" r="2.45" fill="url(#gC)"/>
<circle cx="332.0" cy="358.0" r="2.45" fill="url(#gC)"/>
<circle cx="333.6" cy="367.6" r="2.45" fill="url(#gC)"/>
<circle cx="315.7" cy="413.6" r="2.45" fill="url(#gC)"/>
<circle cx="311.0" cy="408.0" r="2.45" fill="url(#gC)"/>
<circle cx="304.6" cy="409.2" r="2.45" fill="url(#gC)"/>
<circle cx="297.2" cy="410.4" r="2.45" fill="url(#gC)"/>
<circle cx="303.0" cy="413.0" r="2.45" fill="url(#gC)"/>
<circle cx="309.6" cy="411.7" r="2.45" fill="url(#gC)"/>
<circle cx="344.2" cy="447.5" r="2.45" fill="url(#gC)"/>
<circle cx="346.7" cy="453.7" r="2.45" fill="url(#gC)"/>
<circle cx="346.7" cy="462.3" r="2.45" fill="url(#gC)"/>
<circle cx="345.0" cy="471.0" r="2.45" fill="url(#gC)"/>
<circle cx="343.0" cy="467.3" r="2.45" fill="url(#gC)"/>
<circle cx="341.7" cy="456.2" r="2.45" fill="url(#gC)"/>
<circle cx="381.0" cy="409.8" r="2.45" fill="url(#gC)"/>
<circle cx="387.1" cy="406.6" r="2.45" fill="url(#gC)"/>
<circle cx="397.1" cy="406.2" r="2.45" fill="url(#gC)"/>
<circle cx="402.1" cy="408.6" r="2.45" fill="url(#gC)"/>
<circle cx="396.1" cy="412.2" r="2.45" fill="url(#gC)"/>
<circle cx="385.7" cy="412.6" r="2.45" fill="url(#gC)"/>
<circle cx="412.6" cy="408.6" r="2.4" fill="url(#gN)"/>
<circle cx="417.8" cy="401.5" r="2.45" fill="url(#gC)"/>
<circle cx="428.7" cy="400.7" r="2.45" fill="url(#gC)"/>
<circle cx="433.3" cy="392.5" r="2.45" fill="url(#gC)"/>
<circle cx="443.3" cy="391.7" r="2.45" fill="url(#gC)"/>
<circle cx="450.4" cy="400.1" r="2.45" fill="url(#gC)"/>
<circle cx="446.0" cy="408.2" r="2.45" fill="url(#gC)"/>
<circle cx="435.3" cy="408.2" r="2.45" fill="url(#gC)"/>
<circle cx="460.8" cy="399.1" r="2.4" fill="url(#gN)"/>
<circle cx="459.4" cy="393.1" r="2.45" fill="url(#gC)"/>
<circle cx="468.5" cy="386.1" r="2.45" fill="url(#gC)"/>
<circle cx="473.9" cy="383.7" r="2.45" fill="url(#gC)"/>
<circle cx="472.1" cy="388.1" r="2.45" fill="url(#gC)"/>
<circle cx="334.8" cy="401.3" r="2.4" fill="url(#gO)"/>
<circle cx="337.3" cy="412.9" r="2.4" fill="url(#gO)"/>
<circle cx="470.1" cy="402.1" r="3.0" fill="url(#gC2)"/>
<circle cx="480.5" cy="406.2" r="3.0" fill="url(#gC2)"/>
<circle cx="489.5" cy="412.2" r="3.0" fill="url(#gC2)"/>
<circle cx="488.5" cy="414.2" r="3.0" fill="url(#gC2)"/>
<circle cx="481.5" cy="409.2" r="3.0" fill="url(#gC2)"/>
<circle cx="472.0" cy="405.0" r="3.0" fill="url(#gC2)"/>
</g>
<path d="M253.2,231.8 C261.9,213.4 271.6,193.7 290.7,184.0" fill="none" stroke="#111" stroke-width="1.5"/>
<path d="M302.0,178.0 L288.9,190.1 L289.4,184.7 L284.6,182.1 Z" fill="#111"/>
<path d="M252.4,211.8 C265.1,209.0 275.9,197.8 275.9,184.4" fill="none" stroke="#111" stroke-width="1.5"/>
<path d="M274.9,171.5 L280.8,188.5 L276.1,185.9 L271.8,189.3 Z" fill="#111"/>
<path d="M372.3,176.7 C392.1,184.0 406.0,200.4 418.3,216.7" fill="none" stroke="#111" stroke-width="1.5"/>
<path d="M423.7,228.4 L412.4,214.5 L417.7,215.4 L420.5,210.8 Z" fill="#111"/>
<path d="M391.6,178.1 C393.6,192.7 407.6,203.7 422.4,201.6" fill="none" stroke="#111" stroke-width="1.5"/>
<path d="M434.0,199.2 L418.9,206.9 L420.9,201.9 L417.1,198.0 Z" fill="#111"/>
<path d="M426.8,285.5 C421.3,305.8 407.3,322.6 390.9,335.2" fill="none" stroke="#111" stroke-width="1.5"/>
<path d="M379.8,341.5 L392.6,329.1 L392.2,334.5 L397.1,336.9 Z" fill="#111"/>
<path d="M430.8,301.6 C417.2,304.5 406.6,318.1 408.9,332.2" fill="none" stroke="#111" stroke-width="1.5"/>
<path d="M410.7,344.3 L403.8,328.3 L408.7,330.7 L412.8,327.1 Z" fill="#111"/>
<path d="M304.8,344.5 C286.1,335.5 269.9,321.2 259.3,303.4" fill="none" stroke="#111" stroke-width="1.5"/>
<path d="M253.9,292.0 L265.3,305.5 L259.9,304.7 L257.1,309.4 Z" fill="#111"/>
<path d="M285.8,344.5 C284.8,331.2 272.7,318.2 258.6,320.2" fill="none" stroke="#111" stroke-width="1.5"/>
<path d="M245.8,320.7 L262.9,315.5 L260.1,320.1 L263.3,324.5 Z" fill="#111"/>
<text transform="translate(224.6,218.4) scale(1,1.1)" font-family="Liberation Serif, serif" font-weight="bold" font-size="17" fill="#111" >OH<tspan dy="-5.8" font-size="14.5">-</tspan></text>
<text transform="translate(273.9,219.0) scale(1,1.1)" font-family="Liberation Serif, serif" font-weight="bold" font-size="17" fill="#111" >A</text>
<text transform="translate(265.2,167.9) scale(1,1.1)" font-family="Liberation Serif, serif" font-weight="bold" font-size="17" fill="#111" >e<tspan dy="-5.8" font-size="14.5">-</tspan></text>
<text transform="translate(321,191.6) scale(1,1.1)" font-family="Liberation Serif, serif" font-weight="bold" font-size="17" fill="#111" >M-OH</text>
<text transform="translate(384,174.5) scale(1,1.1)" font-family="Liberation Serif, serif" font-weight="bold" font-size="17" fill="#111" >OH<tspan dy="-5.8" font-size="14.5">-</tspan></text>
<text transform="translate(383.9,215.9) scale(1,1.1)" font-family="Liberation Serif, serif" font-weight="bold" font-size="17" fill="#111" >B</text>
<text transform="translate(434.2,194.9) scale(1,1.1)" font-family="Liberation Serif, serif" font-weight="bold" font-size="17" fill="#111" >H<tspan dy="4" font-size="12.5">2</tspan><tspan dy="-4">O+e</tspan><tspan dy="-5.8" font-size="14.5">-</tspan></text>
<text transform="translate(392,263.3) scale(1,1.1)" font-family="Liberation Serif, serif" font-weight="bold" font-size="17" fill="#111" >M-O</text>
<text transform="translate(268.2,263.6) scale(1,1.1)" font-family="Liberation Serif, serif" font-weight="bold" font-size="17" fill="#111" >M</text>
<text transform="translate(392.7,314.8) scale(1,1.0)" font-family="Liberation Serif, serif" font-weight="bold" font-size="19.2" fill="#5a1234" >C</text>
<text transform="translate(435.8,306.7) scale(1,1.1)" font-family="Liberation Serif, serif" font-weight="bold" font-size="17" fill="#111" >OH<tspan dy="-5.8" font-size="14.5">-</tspan></text>
<text transform="translate(317.3,336) scale(1,1.1)" font-family="Liberation Serif, serif" font-weight="bold" font-size="17" fill="#111" >M-OOH</text>
<text transform="translate(416.3,360.4) scale(1,1.1)" font-family="Liberation Serif, serif" font-weight="bold" font-size="17" fill="#111" >e<tspan dy="-5.8" font-size="14.5">-</tspan></text>
<text transform="translate(280.4,316.2) scale(1,1.1)" font-family="Liberation Serif, serif" font-weight="bold" font-size="17" fill="#111" >D</text>
<text transform="translate(206,327.3) scale(1,1.1)" font-family="Liberation Serif, serif" font-weight="bold" font-size="17" fill="#111" >O<tspan dy="4" font-size="12.5">2</tspan><tspan dy="-4">+e</tspan><tspan dy="-5.8" font-size="14.5">-</tspan></text>
<text transform="translate(274.4,360.4) scale(1,1.1)" font-family="Liberation Serif, serif" font-weight="bold" font-size="17" fill="#111" >OH<tspan dy="-5.8" font-size="14.5">-</tspan></text>
<rect x="147.4" y="509.0" width="429.1" height="371.20000000000005" fill="none" stroke="#000" stroke-width="2.5"/>
<line x1="139.5" y1="509.0" x2="147.4" y2="509.0" stroke="#000" stroke-width="2.5"/>
<text x="134.2" y="515.5" font-family="Liberation Sans, Arial, sans-serif" font-weight="bold" font-size="23.6" text-anchor="end">0.2</text>
<line x1="143.2" y1="529.6" x2="147.4" y2="529.6" stroke="#000" stroke-width="2.5"/>
<line x1="139.5" y1="550.2" x2="147.4" y2="550.2" stroke="#000" stroke-width="2.5"/>
<text x="134.2" y="556.7" font-family="Liberation Sans, Arial, sans-serif" font-weight="bold" font-size="23.6" text-anchor="end">0.0</text>
<line x1="143.2" y1="570.8" x2="147.4" y2="570.8" stroke="#000" stroke-width="2.5"/>
<line x1="139.5" y1="591.4" x2="147.4" y2="591.4" stroke="#000" stroke-width="2.5"/>
<text x="134.2" y="597.9" font-family="Liberation Sans, Arial, sans-serif" font-weight="bold" font-size="23.6" text-anchor="end">-0.2</text>
<line x1="143.2" y1="612.1" x2="147.4" y2="612.1" stroke="#000" stroke-width="2.5"/>
<line x1="139.5" y1="632.7" x2="147.4" y2="632.7" stroke="#000" stroke-width="2.5"/>
<text x="134.2" y="639.2" font-family="Liberation Sans, Arial, sans-serif" font-weight="bold" font-size="23.6" text-anchor="end">-0.4</text>
<line x1="143.2" y1="653.3" x2="147.4" y2="653.3" stroke="#000" stroke-width="2.5"/>
<line x1="139.5" y1="673.9" x2="147.4" y2="673.9" stroke="#000" stroke-width="2.5"/>
<text x="134.2" y="680.4" font-family="Liberation Sans, Arial, sans-serif" font-weight="bold" font-size="23.6" text-anchor="end">-0.6</text>
<line x1="143.2" y1="694.5" x2="147.4" y2="694.5" stroke="#000" stroke-width="2.5"/>
<line x1="139.5" y1="715.2" x2="147.4" y2="715.2" stroke="#000" stroke-width="2.5"/>
<text x="134.2" y="721.7" font-family="Liberation Sans, Arial, sans-serif" font-weight="bold" font-size="23.6" text-anchor="end">-0.8</text>
<line x1="143.2" y1="735.8" x2="147.4" y2="735.8" stroke="#000" stroke-width="2.5"/>
<line x1="139.5" y1="756.4" x2="147.4" y2="756.4" stroke="#000" stroke-width="2.5"/>
<text x="134.2" y="762.9" font-family="Liberation Sans, Arial, sans-serif" font-weight="bold" font-size="23.6" text-anchor="end">-1.0</text>
<line x1="143.2" y1="777.0" x2="147.4" y2="777.0" stroke="#000" stroke-width="2.5"/>
<line x1="139.5" y1="797.6" x2="147.4" y2="797.6" stroke="#000" stroke-width="2.5"/>
<text x="134.2" y="804.1" font-family="Liberation Sans, Arial, sans-serif" font-weight="bold" font-size="23.6" text-anchor="end">-1.2</text>
<line x1="143.2" y1="818.3" x2="147.4" y2="818.3" stroke="#000" stroke-width="2.5"/>
<line x1="139.5" y1="838.9" x2="147.4" y2="838.9" stroke="#000" stroke-width="2.5"/>
<text x="134.2" y="845.4" font-family="Liberation Sans, Arial, sans-serif" font-weight="bold" font-size="23.6" text-anchor="end">-1.4</text>
<line x1="143.2" y1="859.5" x2="147.4" y2="859.5" stroke="#000" stroke-width="2.5"/>
<line x1="139.5" y1="880.1" x2="147.4" y2="880.1" stroke="#000" stroke-width="2.5"/>
<text x="134.2" y="886.6" font-family="Liberation Sans, Arial, sans-serif" font-weight="bold" font-size="23.6" text-anchor="end">-1.6</text>
<text transform="translate(71,697.9) rotate(-90) scale(0.909,1)" font-family="Liberation Sans, Arial, sans-serif" font-weight="bold" font-size="29.4" text-anchor="middle">Free energy (eV)</text>
<line x1="232.9" y1="550.1" x2="266.8" y2="616.0" stroke="#ff1a1a" stroke-width="1.3" stroke-dasharray="3.8,3.0" stroke-dashoffset="0"/>
<line x1="314" y1="616.0" x2="348.8" y2="563.5" stroke="#ff1a1a" stroke-width="1.3" stroke-dasharray="3.8,3.0" stroke-dashoffset="0"/>
<line x1="396.5" y1="563.5" x2="430.2" y2="779.4" stroke="#ff1a1a" stroke-width="1.3" stroke-dasharray="3.8,3.0" stroke-dashoffset="0"/>
<line x1="477.9" y1="779.4" x2="512.1" y2="840.2" stroke="#ff1a1a" stroke-width="1.3" stroke-dasharray="3.8,3.0" stroke-dashoffset="0"/>
<line x1="232.9" y1="550.1" x2="266.8" y2="618.0" stroke="#1ae01a" stroke-width="1.3" stroke-dasharray="3.8,3.0" stroke-dashoffset="3.4"/>
<line x1="314" y1="618.0" x2="348.8" y2="550.45" stroke="#1ae01a" stroke-width="1.3" stroke-dasharray="3.8,3.0" stroke-dashoffset="3.4"/>
<line x1="396.5" y1="550.45" x2="430.2" y2="788.75" stroke="#1ae01a" stroke-width="1.3" stroke-dasharray="3.8,3.0" stroke-dashoffset="3.4"/>
<line x1="477.9" y1="788.75" x2="512.1" y2="837.25" stroke="#1ae01a" stroke-width="1.3" stroke-dasharray="3.8,3.0" stroke-dashoffset="3.4"/>
<line x1="188.25" y1="550.1" x2="229.75" y2="550.1" stroke="#ff0000" stroke-width="6.3" stroke-linecap="round"/>
<line x1="269.95" y1="616.0" x2="310.85" y2="616.0" stroke="#ff0000" stroke-width="6.3" stroke-linecap="round"/>
<line x1="351.95" y1="563.5" x2="393.35" y2="563.5" stroke="#ff0000" stroke-width="6.3" stroke-linecap="round"/>
<line x1="433.34999999999997" y1="779.4" x2="474.75" y2="779.4" stroke="#ff0000" stroke-width="6.3" stroke-linecap="round"/>
<line x1="515.25" y1="840.2" x2="556.45" y2="840.2" stroke="#ff0000" stroke-width="6.3" stroke-linecap="round"/>
<line x1="188.25" y1="550.1" x2="229.75" y2="550.1" stroke="#10ee10" stroke-width="5.1" stroke-linecap="round"/>
<line x1="269.95000000000005" y1="618.0" x2="310.84999999999997" y2="618.0" stroke="#10ee10" stroke-width="5.1" stroke-linecap="round"/>
<line x1="351.95000000000005" y1="550.45" x2="393.34999999999997" y2="550.45" stroke="#10ee10" stroke-width="5.1" stroke-linecap="round"/>
<line x1="433.35" y1="788.75" x2="474.74999999999994" y2="788.75" stroke="#10ee10" stroke-width="5.1" stroke-linecap="round"/>
<line x1="515.25" y1="837.25" x2="556.45" y2="837.25" stroke="#10ee10" stroke-width="5.1" stroke-linecap="round"/>
<text x="266" y="606.6" font-family="Liberation Sans, Arial, sans-serif" font-weight="bold" font-size="19.1" fill="#ff0000">-0.320</text>
<text x="266" y="638.6" font-family="Liberation Sans, Arial, sans-serif" font-weight="bold" font-size="19.1" fill="#11a058">-0.331</text>
<text x="344.3" y="542.8" font-family="Liberation Sans, Arial, sans-serif" font-weight="bold" font-size="19.1" fill="#11a058"><tspan fill="#10ee10">-</tspan>0.023</text>
<text x="344.3" y="583.5" font-family="Liberation Sans, Arial, sans-serif" font-weight="bold" font-size="19.1" fill="#ff0000">-0.065</text>
<text x="431.7" y="770.4" font-family="Liberation Sans, Arial, sans-serif" font-weight="bold" font-size="19.1" fill="#ff0000">-1.112</text>
<text x="426.5" y="807.3" font-family="Liberation Sans, Arial, sans-serif" font-weight="bold" font-size="19.1" fill="#11a058"><tspan fill="#10ee10">-</tspan>1.157</text>
<text x="508.4" y="829.7" font-family="Liberation Sans, Arial, sans-serif" font-weight="bold" font-size="19.1" fill="#11a058">-1.393</text>
<text x="509.8" y="861" font-family="Liberation Sans, Arial, sans-serif" font-weight="bold" font-size="19.1" fill="#ff0000">-1.407</text>
<line x1="162" y1="812" x2="200" y2="812" stroke="#0db04b" stroke-width="4"/>
<line x1="162" y1="851" x2="200" y2="851" stroke="#ff0000" stroke-width="4"/>
<text x="205" y="820.1" font-family="Liberation Sans, Arial, sans-serif" font-weight="bold" font-size="23.8">Co-COF-366</text>
<text x="205" y="858.9" font-family="Liberation Sans, Arial, sans-serif" font-weight="bold" font-size="23.8">CoTAPP-PATA-COF</text>
<text x="503.5" y="537.8" font-family="Liberation Sans, Arial, sans-serif" font-weight="bold" font-size="27.3">OER</text>
<text x="503.5" y="613" font-family="Liberation Sans, Arial, sans-serif" font-weight="bold" font-size="27.3">ORR</text>
<path d="M501.8,553.1 H548.1 V547.3 L565.8,556 L548.1,565 V559 H501.8 Z" fill="#000"/>
<path d="M558.2,572.9 H511.6 V567 L494.2,575.8 L511.6,584.8 V578.9 H558.2 Z" fill="#000"/>
<text x="177.5" y="917.3" font-family="Liberation Sans, Arial, sans-serif" font-weight="bold" font-size="23">OH<tspan dy="-9" font-size="14" dx="1.2">-</tspan></text>
<text x="266.5" y="917.3" font-family="Liberation Sans, Arial, sans-serif" font-weight="bold" font-size="23"><tspan dy="-9" font-size="13">*</tspan><tspan dy="9" dx="1.6">OH</tspan></text>
<text x="350.8" y="917.3" font-family="Liberation Sans, Arial, sans-serif" font-weight="bold" font-size="23"><tspan dy="-9" font-size="13">*</tspan><tspan dy="9" dx="1.8">O</tspan></text>
<text x="422.5" y="917.3" font-family="Liberation Sans, Arial, sans-serif" font-weight="bold" font-size="23"><tspan dy="-9" font-size="13">*</tspan><tspan dy="9" dx="2.2">OOH</tspan></text>
<text x="529.7" y="917.3" font-family="Liberation Sans, Arial, sans-serif" font-weight="bold" font-size="23">O<tspan dy="6" font-size="15" dx="0.4">2</tspan></text>
<text transform="translate(23.66,44.9) scale(0.8,1)" font-family="Liberation Sans, Arial, sans-serif" font-weight="bold" font-size="33.7">(</text>
<text transform="translate(34.8,45.6) scale(0.96,1)" font-family="Liberation Sans, Arial, sans-serif" font-weight="bold" font-size="33">A</text>
<text transform="translate(58.6,44.9) scale(0.8,1)" font-family="Liberation Sans, Arial, sans-serif" font-weight="bold" font-size="33.7">)</text>
<text transform="translate(23.65,498.8) scale(0.8,1)" font-family="Liberation Sans, Arial, sans-serif" font-weight="bold" font-size="33.8">(</text>
<text transform="translate(35.9,499.8) scale(0.79,1)" font-family="Liberation Sans, Arial, sans-serif" font-weight="bold" font-size="33.7">B</text>
<text transform="translate(57.94,498.8) scale(0.8,1)" font-family="Liberation Sans, Arial, sans-serif" font-weight="bold" font-size="33.8">)</text>
</svg>
</body></html>
